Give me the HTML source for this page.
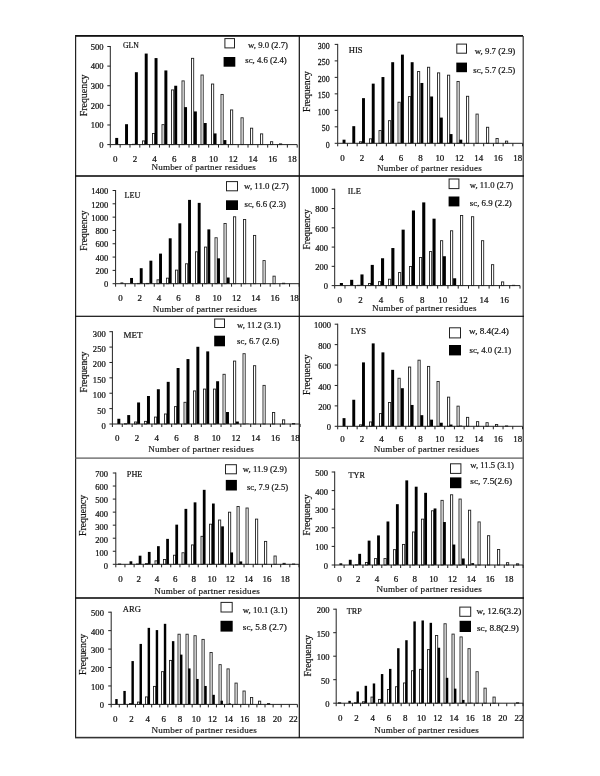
<!DOCTYPE html>
<html><head><meta charset="utf-8"><title>Figure</title>
<style>
html,body{margin:0;padding:0;background:#fff;}
body{width:600px;height:776px;overflow:hidden;}
svg{display:block;will-change:transform;}
text{font-family:"Liberation Serif", serif;fill:#111;stroke:#111;stroke-width:0.3px;}
.tk{font-size:9.2px;stroke-width:0.25px;}
.xl{font-size:9.2px;stroke-width:0.25px;}
.ti{font-size:8.6px;stroke-width:0.2px;}
.lg{font-size:8.6px;stroke-width:0.2px;}
.it{font-style:italic;}
.xt{font-size:9.1px;stroke-width:0.15px;}
.yt{font-size:10.2px;stroke-width:0.2px;}
</style></head>
<body>
<svg width="600" height="776" viewBox="0 0 600 776">
<rect width="600" height="776" fill="#fff"/>
<rect x="75" y="35" width="448" height="1.8" fill="#111"/>
<rect x="75" y="35" width="1.2" height="703" fill="#222"/>
<rect x="522.6" y="36" width="1.2" height="702" fill="#333"/>
<rect x="75" y="736.8" width="449" height="1.6" fill="#333"/>
<rect x="298.7" y="35" width="1.2" height="703" fill="#111"/>
<rect x="75" y="175.2" width="449" height="1.6" fill="#111"/>
<rect x="75" y="315.7" width="449" height="1.2" fill="#111"/>
<rect x="75" y="457.5" width="449" height="1.2" fill="#555"/>
<rect x="75" y="597.2" width="449" height="1.6" fill="#111"/>
<rect x="115.22" y="137.93" width="2.95" height="6.67" fill="#000"/>
<rect x="125.06" y="124.2" width="2.95" height="20.4" fill="#000"/>
<rect x="132.5" y="144.3" width="2.2" height="0.3" fill="#fff" stroke="#222" stroke-width="0.9"/>
<rect x="134.89" y="72.2" width="2.95" height="72.4" fill="#000"/>
<rect x="142.5" y="140.93" width="2.2" height="3.67" fill="#fff" stroke="#222" stroke-width="0.9"/>
<rect x="144.73" y="53.56" width="2.95" height="91.04" fill="#000"/>
<rect x="152.5" y="133.47" width="2.2" height="11.13" fill="#fff" stroke="#222" stroke-width="0.9"/>
<rect x="154.57" y="58.08" width="2.95" height="86.52" fill="#000"/>
<rect x="162" y="124.65" width="2.2" height="19.95" fill="#fff" stroke="#222" stroke-width="0.9"/>
<rect x="164.4" y="70.44" width="2.95" height="74.16" fill="#000"/>
<rect x="171.5" y="89.92" width="2.2" height="54.68" fill="#fff" stroke="#222" stroke-width="0.9"/>
<rect x="174.24" y="85.74" width="2.95" height="58.86" fill="#000"/>
<rect x="182" y="80.89" width="2.2" height="63.71" fill="#fff" stroke="#222" stroke-width="0.9"/>
<rect x="184.08" y="107.13" width="2.95" height="37.47" fill="#000"/>
<rect x="191.5" y="58.33" width="2.2" height="86.27" fill="#fff" stroke="#222" stroke-width="0.9"/>
<rect x="193.91" y="111.44" width="2.95" height="33.16" fill="#000"/>
<rect x="201" y="75.01" width="2.2" height="69.59" fill="#fff" stroke="#222" stroke-width="0.9"/>
<rect x="203.75" y="123.02" width="2.95" height="21.58" fill="#000"/>
<rect x="211.5" y="84.03" width="2.2" height="60.57" fill="#fff" stroke="#222" stroke-width="0.9"/>
<rect x="213.59" y="133.42" width="2.95" height="11.18" fill="#000"/>
<rect x="221" y="94.43" width="2.2" height="50.17" fill="#fff" stroke="#222" stroke-width="0.9"/>
<rect x="223.42" y="140.09" width="2.95" height="4.51" fill="#000"/>
<rect x="230.5" y="109.93" width="2.2" height="34.67" fill="#fff" stroke="#222" stroke-width="0.9"/>
<rect x="233.26" y="144.21" width="2.95" height="0.39" fill="#000"/>
<rect x="241" y="117.78" width="2.2" height="26.82" fill="#fff" stroke="#222" stroke-width="0.9"/>
<rect x="250.5" y="128.18" width="2.2" height="16.42" fill="#fff" stroke="#222" stroke-width="0.9"/>
<rect x="260.5" y="133.87" width="2.2" height="10.73" fill="#fff" stroke="#222" stroke-width="0.9"/>
<rect x="270.5" y="141.71" width="2.2" height="2.89" fill="#fff" stroke="#222" stroke-width="0.9"/>
<rect x="279.5" y="143.87" width="2.2" height="0.73" fill="#fff" stroke="#222" stroke-width="0.9"/>
<line x1="110.3" y1="46" x2="110.3" y2="144.6" stroke="#222" stroke-width="1"/>
<line x1="110.3" y1="144.6" x2="297.2" y2="144.6" stroke="#222" stroke-width="1"/>
<line x1="107.3" y1="144.6" x2="110.3" y2="144.6" stroke="#222" stroke-width="1"/>
<text x="103.6" y="147.9" class="tk" text-anchor="end" transform="translate(103.6,0) scale(0.93,1) translate(-103.6,0)">0</text>
<line x1="107.3" y1="124.98" x2="110.3" y2="124.98" stroke="#222" stroke-width="1"/>
<text x="103.6" y="128.28" class="tk" text-anchor="end" transform="translate(103.6,0) scale(0.93,1) translate(-103.6,0)">100</text>
<line x1="107.3" y1="105.36" x2="110.3" y2="105.36" stroke="#222" stroke-width="1"/>
<text x="103.6" y="108.66" class="tk" text-anchor="end" transform="translate(103.6,0) scale(0.93,1) translate(-103.6,0)">200</text>
<line x1="107.3" y1="85.74" x2="110.3" y2="85.74" stroke="#222" stroke-width="1"/>
<text x="103.6" y="89.04" class="tk" text-anchor="end" transform="translate(103.6,0) scale(0.93,1) translate(-103.6,0)">300</text>
<line x1="107.3" y1="66.12" x2="110.3" y2="66.12" stroke="#222" stroke-width="1"/>
<text x="103.6" y="69.42" class="tk" text-anchor="end" transform="translate(103.6,0) scale(0.93,1) translate(-103.6,0)">400</text>
<line x1="107.3" y1="46.5" x2="110.3" y2="46.5" stroke="#222" stroke-width="1"/>
<text x="103.6" y="49.8" class="tk" text-anchor="end" transform="translate(103.6,0) scale(0.93,1) translate(-103.6,0)">500</text>
<line x1="110.3" y1="144.6" x2="110.3" y2="147.6" stroke="#222" stroke-width="1"/>
<line x1="120.14" y1="144.6" x2="120.14" y2="147.6" stroke="#222" stroke-width="1"/>
<line x1="129.97" y1="144.6" x2="129.97" y2="147.6" stroke="#222" stroke-width="1"/>
<line x1="139.81" y1="144.6" x2="139.81" y2="147.6" stroke="#222" stroke-width="1"/>
<line x1="149.65" y1="144.6" x2="149.65" y2="147.6" stroke="#222" stroke-width="1"/>
<line x1="159.48" y1="144.6" x2="159.48" y2="147.6" stroke="#222" stroke-width="1"/>
<line x1="169.32" y1="144.6" x2="169.32" y2="147.6" stroke="#222" stroke-width="1"/>
<line x1="179.16" y1="144.6" x2="179.16" y2="147.6" stroke="#222" stroke-width="1"/>
<line x1="188.99" y1="144.6" x2="188.99" y2="147.6" stroke="#222" stroke-width="1"/>
<line x1="198.83" y1="144.6" x2="198.83" y2="147.6" stroke="#222" stroke-width="1"/>
<line x1="208.67" y1="144.6" x2="208.67" y2="147.6" stroke="#222" stroke-width="1"/>
<line x1="218.51" y1="144.6" x2="218.51" y2="147.6" stroke="#222" stroke-width="1"/>
<line x1="228.34" y1="144.6" x2="228.34" y2="147.6" stroke="#222" stroke-width="1"/>
<line x1="238.18" y1="144.6" x2="238.18" y2="147.6" stroke="#222" stroke-width="1"/>
<line x1="248.02" y1="144.6" x2="248.02" y2="147.6" stroke="#222" stroke-width="1"/>
<line x1="257.85" y1="144.6" x2="257.85" y2="147.6" stroke="#222" stroke-width="1"/>
<line x1="267.69" y1="144.6" x2="267.69" y2="147.6" stroke="#222" stroke-width="1"/>
<line x1="277.53" y1="144.6" x2="277.53" y2="147.6" stroke="#222" stroke-width="1"/>
<line x1="287.36" y1="144.6" x2="287.36" y2="147.6" stroke="#222" stroke-width="1"/>
<line x1="297.2" y1="144.6" x2="297.2" y2="147.6" stroke="#222" stroke-width="1"/>
<text x="115.22" y="162" class="xl" text-anchor="middle" transform="translate(115.22,0) scale(0.97,1) translate(-115.22,0)">0</text>
<text x="134.89" y="162" class="xl" text-anchor="middle" transform="translate(134.89,0) scale(0.97,1) translate(-134.89,0)">2</text>
<text x="154.57" y="162" class="xl" text-anchor="middle" transform="translate(154.57,0) scale(0.97,1) translate(-154.57,0)">4</text>
<text x="174.24" y="162" class="xl" text-anchor="middle" transform="translate(174.24,0) scale(0.97,1) translate(-174.24,0)">6</text>
<text x="193.91" y="162" class="xl" text-anchor="middle" transform="translate(193.91,0) scale(0.97,1) translate(-193.91,0)">8</text>
<text x="213.59" y="162" class="xl" text-anchor="middle" transform="translate(213.59,0) scale(0.97,1) translate(-213.59,0)">10</text>
<text x="233.26" y="162" class="xl" text-anchor="middle" transform="translate(233.26,0) scale(0.97,1) translate(-233.26,0)">12</text>
<text x="252.93" y="162" class="xl" text-anchor="middle" transform="translate(252.93,0) scale(0.97,1) translate(-252.93,0)">14</text>
<text x="272.61" y="162" class="xl" text-anchor="middle" transform="translate(272.61,0) scale(0.97,1) translate(-272.61,0)">16</text>
<text x="292.28" y="162" class="xl" text-anchor="middle" transform="translate(292.28,0) scale(0.97,1) translate(-292.28,0)">18</text>
<text x="151.4" y="169.7" class="xt" textLength="104.4" lengthAdjust="spacing">Number of partner residues</text>
<text x="0" y="0" class="yt" textLength="41.8" lengthAdjust="spacingAndGlyphs" transform="translate(86.58,116.3) rotate(-90)">Frequency</text>
<text x="122.9" y="48" class="ti" textLength="16" lengthAdjust="spacingAndGlyphs">GLN</text>
<rect x="224.9" y="38.6" width="9.6" height="9.3" fill="#fff" stroke="#222" stroke-width="1"/>
<rect x="223.6" y="57" width="11.7" height="9.7" fill="#000"/>
<text x="248.1" y="48.4" class="lg" textLength="39.8" lengthAdjust="spacingAndGlyphs">w, 9.0 (2.7)</text>
<text x="245.3" y="63.2" class="lg" textLength="41.4" lengthAdjust="spacingAndGlyphs">sc, 4.6 (2.4)</text>
<rect x="342.57" y="139.67" width="2.92" height="3.63" fill="#000"/>
<rect x="352.3" y="126.16" width="2.92" height="17.14" fill="#000"/>
<rect x="359.5" y="141.77" width="2.2" height="1.53" fill="#fff" stroke="#222" stroke-width="0.9"/>
<rect x="362.03" y="98.14" width="2.92" height="45.16" fill="#000"/>
<rect x="369.5" y="138.81" width="2.2" height="4.5" fill="#fff" stroke="#222" stroke-width="0.9"/>
<rect x="371.76" y="83.63" width="2.92" height="59.67" fill="#000"/>
<rect x="379" y="130.56" width="2.2" height="12.74" fill="#fff" stroke="#222" stroke-width="0.9"/>
<rect x="381.49" y="77.04" width="2.92" height="66.26" fill="#000"/>
<rect x="388.5" y="120.67" width="2.2" height="22.63" fill="#fff" stroke="#222" stroke-width="0.9"/>
<rect x="391.22" y="62.2" width="2.92" height="81.1" fill="#000"/>
<rect x="398" y="102.21" width="2.2" height="41.09" fill="#fff" stroke="#222" stroke-width="0.9"/>
<rect x="400.96" y="54.62" width="2.92" height="88.68" fill="#000"/>
<rect x="408.5" y="96.61" width="2.2" height="46.69" fill="#fff" stroke="#222" stroke-width="0.9"/>
<rect x="410.69" y="62.2" width="2.92" height="81.1" fill="#000"/>
<rect x="417.5" y="71.55" width="2.2" height="71.75" fill="#fff" stroke="#222" stroke-width="0.9"/>
<rect x="420.42" y="82.97" width="2.92" height="60.33" fill="#000"/>
<rect x="427.5" y="67.27" width="2.2" height="76.03" fill="#fff" stroke="#222" stroke-width="0.9"/>
<rect x="430.15" y="96.49" width="2.92" height="46.81" fill="#000"/>
<rect x="437.5" y="72.87" width="2.2" height="70.43" fill="#fff" stroke="#222" stroke-width="0.9"/>
<rect x="439.88" y="117.59" width="2.92" height="25.71" fill="#000"/>
<rect x="447.5" y="75.18" width="2.2" height="68.12" fill="#fff" stroke="#222" stroke-width="0.9"/>
<rect x="449.61" y="134.07" width="2.92" height="9.23" fill="#000"/>
<rect x="457" y="81.44" width="2.2" height="61.86" fill="#fff" stroke="#222" stroke-width="0.9"/>
<rect x="459.34" y="139.67" width="2.92" height="3.63" fill="#000"/>
<rect x="466.5" y="96.28" width="2.2" height="47.02" fill="#fff" stroke="#222" stroke-width="0.9"/>
<rect x="476" y="114.08" width="2.2" height="29.22" fill="#fff" stroke="#222" stroke-width="0.9"/>
<rect x="486.5" y="127.27" width="2.2" height="16.03" fill="#fff" stroke="#222" stroke-width="0.9"/>
<rect x="496" y="138.48" width="2.2" height="4.82" fill="#fff" stroke="#222" stroke-width="0.9"/>
<rect x="505.5" y="141.11" width="2.2" height="2.19" fill="#fff" stroke="#222" stroke-width="0.9"/>
<line x1="337.7" y1="43.9" x2="337.7" y2="143.3" stroke="#222" stroke-width="1"/>
<line x1="337.7" y1="143.3" x2="522.6" y2="143.3" stroke="#222" stroke-width="1"/>
<line x1="334.7" y1="143.3" x2="337.7" y2="143.3" stroke="#222" stroke-width="1"/>
<text x="329.7" y="147.8" class="tk" text-anchor="end" transform="translate(329.7,0) scale(0.86,1) translate(-329.7,0)">0</text>
<line x1="334.7" y1="126.82" x2="337.7" y2="126.82" stroke="#222" stroke-width="1"/>
<text x="329.7" y="131.32" class="tk" text-anchor="end" transform="translate(329.7,0) scale(0.86,1) translate(-329.7,0)">50</text>
<line x1="334.7" y1="110.33" x2="337.7" y2="110.33" stroke="#222" stroke-width="1"/>
<text x="329.7" y="114.83" class="tk" text-anchor="end" transform="translate(329.7,0) scale(0.86,1) translate(-329.7,0)">100</text>
<line x1="334.7" y1="93.85" x2="337.7" y2="93.85" stroke="#222" stroke-width="1"/>
<text x="329.7" y="98.35" class="tk" text-anchor="end" transform="translate(329.7,0) scale(0.86,1) translate(-329.7,0)">150</text>
<line x1="334.7" y1="77.37" x2="337.7" y2="77.37" stroke="#222" stroke-width="1"/>
<text x="329.7" y="81.87" class="tk" text-anchor="end" transform="translate(329.7,0) scale(0.86,1) translate(-329.7,0)">200</text>
<line x1="334.7" y1="60.88" x2="337.7" y2="60.88" stroke="#222" stroke-width="1"/>
<text x="329.7" y="65.38" class="tk" text-anchor="end" transform="translate(329.7,0) scale(0.86,1) translate(-329.7,0)">250</text>
<line x1="334.7" y1="44.4" x2="337.7" y2="44.4" stroke="#222" stroke-width="1"/>
<text x="329.7" y="48.9" class="tk" text-anchor="end" transform="translate(329.7,0) scale(0.86,1) translate(-329.7,0)">300</text>
<line x1="337.7" y1="143.3" x2="337.7" y2="146.3" stroke="#222" stroke-width="1"/>
<line x1="347.43" y1="143.3" x2="347.43" y2="146.3" stroke="#222" stroke-width="1"/>
<line x1="357.16" y1="143.3" x2="357.16" y2="146.3" stroke="#222" stroke-width="1"/>
<line x1="366.89" y1="143.3" x2="366.89" y2="146.3" stroke="#222" stroke-width="1"/>
<line x1="376.63" y1="143.3" x2="376.63" y2="146.3" stroke="#222" stroke-width="1"/>
<line x1="386.36" y1="143.3" x2="386.36" y2="146.3" stroke="#222" stroke-width="1"/>
<line x1="396.09" y1="143.3" x2="396.09" y2="146.3" stroke="#222" stroke-width="1"/>
<line x1="405.82" y1="143.3" x2="405.82" y2="146.3" stroke="#222" stroke-width="1"/>
<line x1="415.55" y1="143.3" x2="415.55" y2="146.3" stroke="#222" stroke-width="1"/>
<line x1="425.28" y1="143.3" x2="425.28" y2="146.3" stroke="#222" stroke-width="1"/>
<line x1="435.02" y1="143.3" x2="435.02" y2="146.3" stroke="#222" stroke-width="1"/>
<line x1="444.75" y1="143.3" x2="444.75" y2="146.3" stroke="#222" stroke-width="1"/>
<line x1="454.48" y1="143.3" x2="454.48" y2="146.3" stroke="#222" stroke-width="1"/>
<line x1="464.21" y1="143.3" x2="464.21" y2="146.3" stroke="#222" stroke-width="1"/>
<line x1="473.94" y1="143.3" x2="473.94" y2="146.3" stroke="#222" stroke-width="1"/>
<line x1="483.67" y1="143.3" x2="483.67" y2="146.3" stroke="#222" stroke-width="1"/>
<line x1="493.41" y1="143.3" x2="493.41" y2="146.3" stroke="#222" stroke-width="1"/>
<line x1="503.14" y1="143.3" x2="503.14" y2="146.3" stroke="#222" stroke-width="1"/>
<line x1="512.87" y1="143.3" x2="512.87" y2="146.3" stroke="#222" stroke-width="1"/>
<line x1="522.6" y1="143.3" x2="522.6" y2="146.3" stroke="#222" stroke-width="1"/>
<text x="342.57" y="160.7" class="xl" text-anchor="middle" transform="translate(342.57,0) scale(0.97,1) translate(-342.57,0)">0</text>
<text x="362.03" y="160.7" class="xl" text-anchor="middle" transform="translate(362.03,0) scale(0.97,1) translate(-362.03,0)">2</text>
<text x="381.49" y="160.7" class="xl" text-anchor="middle" transform="translate(381.49,0) scale(0.97,1) translate(-381.49,0)">4</text>
<text x="400.96" y="160.7" class="xl" text-anchor="middle" transform="translate(400.96,0) scale(0.97,1) translate(-400.96,0)">6</text>
<text x="420.42" y="160.7" class="xl" text-anchor="middle" transform="translate(420.42,0) scale(0.97,1) translate(-420.42,0)">8</text>
<text x="439.88" y="160.7" class="xl" text-anchor="middle" transform="translate(439.88,0) scale(0.97,1) translate(-439.88,0)">10</text>
<text x="459.34" y="160.7" class="xl" text-anchor="middle" transform="translate(459.34,0) scale(0.97,1) translate(-459.34,0)">12</text>
<text x="478.81" y="160.7" class="xl" text-anchor="middle" transform="translate(478.81,0) scale(0.97,1) translate(-478.81,0)">14</text>
<text x="498.27" y="160.7" class="xl" text-anchor="middle" transform="translate(498.27,0) scale(0.97,1) translate(-498.27,0)">16</text>
<text x="517.73" y="160.7" class="xl" text-anchor="middle" transform="translate(517.73,0) scale(0.97,1) translate(-517.73,0)">18</text>
<text x="377" y="171.2" class="xt" textLength="104.9" lengthAdjust="spacing">Number of partner residues</text>
<text x="0" y="0" class="yt" textLength="40.8" lengthAdjust="spacingAndGlyphs" transform="translate(310.48,112) rotate(-90)">Frequency</text>
<text x="348.7" y="52.7" class="ti" textLength="13.9" lengthAdjust="spacingAndGlyphs">HIS</text>
<rect x="456.8" y="44.1" width="9.7" height="9.1" fill="#fff" stroke="#222" stroke-width="1"/>
<rect x="456.3" y="62.6" width="10.7" height="9.6" fill="#000"/>
<text x="474.7" y="54" class="lg" textLength="40.6" lengthAdjust="spacingAndGlyphs">w, 9.7 (2.9)</text>
<text x="473.3" y="72.7" class="lg" textLength="42" lengthAdjust="spacingAndGlyphs">sc, 5.7 (2.5)</text>
<rect x="120.43" y="282.5" width="2.9" height="1.2" fill="#000"/>
<rect x="130.09" y="277.97" width="2.9" height="5.73" fill="#000"/>
<rect x="137.5" y="283.4" width="2.2" height="0.3" fill="#fff" stroke="#222" stroke-width="0.9"/>
<rect x="139.76" y="268.19" width="2.9" height="15.51" fill="#000"/>
<rect x="146.5" y="283.4" width="2.2" height="0.3" fill="#fff" stroke="#222" stroke-width="0.9"/>
<rect x="149.42" y="260.67" width="2.9" height="23.03" fill="#000"/>
<rect x="157" y="279.82" width="2.2" height="3.88" fill="#fff" stroke="#222" stroke-width="0.9"/>
<rect x="159.08" y="253.61" width="2.9" height="30.09" fill="#000"/>
<rect x="166.5" y="278.16" width="2.2" height="5.54" fill="#fff" stroke="#222" stroke-width="0.9"/>
<rect x="168.75" y="238.3" width="2.9" height="45.4" fill="#000"/>
<rect x="175.5" y="270.1" width="2.2" height="13.6" fill="#fff" stroke="#222" stroke-width="0.9"/>
<rect x="178.41" y="223.32" width="2.9" height="60.38" fill="#000"/>
<rect x="185.5" y="263.78" width="2.2" height="19.92" fill="#fff" stroke="#222" stroke-width="0.9"/>
<rect x="188.07" y="199.89" width="2.9" height="83.81" fill="#000"/>
<rect x="195.5" y="251.8" width="2.2" height="31.9" fill="#fff" stroke="#222" stroke-width="0.9"/>
<rect x="197.74" y="202.88" width="2.9" height="80.82" fill="#000"/>
<rect x="204.5" y="247.07" width="2.2" height="36.63" fill="#fff" stroke="#222" stroke-width="0.9"/>
<rect x="207.4" y="229.38" width="2.9" height="54.32" fill="#000"/>
<rect x="215" y="237.75" width="2.2" height="45.95" fill="#fff" stroke="#222" stroke-width="0.9"/>
<rect x="217.06" y="258.34" width="2.9" height="25.36" fill="#000"/>
<rect x="224" y="223.5" width="2.2" height="60.2" fill="#fff" stroke="#222" stroke-width="0.9"/>
<rect x="226.73" y="277.51" width="2.9" height="6.19" fill="#000"/>
<rect x="233.5" y="216.78" width="2.2" height="66.92" fill="#fff" stroke="#222" stroke-width="0.9"/>
<rect x="236.39" y="283.5" width="2.9" height="0.2" fill="#000"/>
<rect x="243.5" y="219.51" width="2.2" height="64.19" fill="#fff" stroke="#222" stroke-width="0.9"/>
<rect x="253.5" y="235.42" width="2.2" height="48.28" fill="#fff" stroke="#222" stroke-width="0.9"/>
<rect x="263" y="260.58" width="2.2" height="23.12" fill="#fff" stroke="#222" stroke-width="0.9"/>
<rect x="273" y="276.16" width="2.2" height="7.54" fill="#fff" stroke="#222" stroke-width="0.9"/>
<rect x="282.5" y="283.22" width="2.2" height="0.48" fill="#fff" stroke="#222" stroke-width="0.9"/>
<line x1="115.6" y1="190" x2="115.6" y2="283.7" stroke="#222" stroke-width="1"/>
<line x1="115.6" y1="283.7" x2="299.2" y2="283.7" stroke="#222" stroke-width="1"/>
<line x1="112.6" y1="283.7" x2="115.6" y2="283.7" stroke="#222" stroke-width="1"/>
<text x="108.4" y="287.4" class="tk" text-anchor="end" transform="translate(108.4,0) scale(0.93,1) translate(-108.4,0)">0</text>
<line x1="112.6" y1="270.39" x2="115.6" y2="270.39" stroke="#222" stroke-width="1"/>
<text x="108.4" y="274.09" class="tk" text-anchor="end" transform="translate(108.4,0) scale(0.93,1) translate(-108.4,0)">200</text>
<line x1="112.6" y1="257.07" x2="115.6" y2="257.07" stroke="#222" stroke-width="1"/>
<text x="108.4" y="260.77" class="tk" text-anchor="end" transform="translate(108.4,0) scale(0.93,1) translate(-108.4,0)">400</text>
<line x1="112.6" y1="243.76" x2="115.6" y2="243.76" stroke="#222" stroke-width="1"/>
<text x="108.4" y="247.46" class="tk" text-anchor="end" transform="translate(108.4,0) scale(0.93,1) translate(-108.4,0)">600</text>
<line x1="112.6" y1="230.44" x2="115.6" y2="230.44" stroke="#222" stroke-width="1"/>
<text x="108.4" y="234.14" class="tk" text-anchor="end" transform="translate(108.4,0) scale(0.93,1) translate(-108.4,0)">800</text>
<line x1="112.6" y1="217.13" x2="115.6" y2="217.13" stroke="#222" stroke-width="1"/>
<text x="108.4" y="220.83" class="tk" text-anchor="end" transform="translate(108.4,0) scale(0.93,1) translate(-108.4,0)">1000</text>
<line x1="112.6" y1="203.81" x2="115.6" y2="203.81" stroke="#222" stroke-width="1"/>
<text x="108.4" y="207.51" class="tk" text-anchor="end" transform="translate(108.4,0) scale(0.93,1) translate(-108.4,0)">1200</text>
<line x1="112.6" y1="190.5" x2="115.6" y2="190.5" stroke="#222" stroke-width="1"/>
<text x="108.4" y="194.2" class="tk" text-anchor="end" transform="translate(108.4,0) scale(0.93,1) translate(-108.4,0)">1400</text>
<line x1="115.6" y1="283.7" x2="115.6" y2="286.7" stroke="#222" stroke-width="1"/>
<line x1="125.26" y1="283.7" x2="125.26" y2="286.7" stroke="#222" stroke-width="1"/>
<line x1="134.93" y1="283.7" x2="134.93" y2="286.7" stroke="#222" stroke-width="1"/>
<line x1="144.59" y1="283.7" x2="144.59" y2="286.7" stroke="#222" stroke-width="1"/>
<line x1="154.25" y1="283.7" x2="154.25" y2="286.7" stroke="#222" stroke-width="1"/>
<line x1="163.92" y1="283.7" x2="163.92" y2="286.7" stroke="#222" stroke-width="1"/>
<line x1="173.58" y1="283.7" x2="173.58" y2="286.7" stroke="#222" stroke-width="1"/>
<line x1="183.24" y1="283.7" x2="183.24" y2="286.7" stroke="#222" stroke-width="1"/>
<line x1="192.91" y1="283.7" x2="192.91" y2="286.7" stroke="#222" stroke-width="1"/>
<line x1="202.57" y1="283.7" x2="202.57" y2="286.7" stroke="#222" stroke-width="1"/>
<line x1="212.23" y1="283.7" x2="212.23" y2="286.7" stroke="#222" stroke-width="1"/>
<line x1="221.89" y1="283.7" x2="221.89" y2="286.7" stroke="#222" stroke-width="1"/>
<line x1="231.56" y1="283.7" x2="231.56" y2="286.7" stroke="#222" stroke-width="1"/>
<line x1="241.22" y1="283.7" x2="241.22" y2="286.7" stroke="#222" stroke-width="1"/>
<line x1="250.88" y1="283.7" x2="250.88" y2="286.7" stroke="#222" stroke-width="1"/>
<line x1="260.55" y1="283.7" x2="260.55" y2="286.7" stroke="#222" stroke-width="1"/>
<line x1="270.21" y1="283.7" x2="270.21" y2="286.7" stroke="#222" stroke-width="1"/>
<line x1="279.87" y1="283.7" x2="279.87" y2="286.7" stroke="#222" stroke-width="1"/>
<line x1="289.54" y1="283.7" x2="289.54" y2="286.7" stroke="#222" stroke-width="1"/>
<line x1="299.2" y1="283.7" x2="299.2" y2="286.7" stroke="#222" stroke-width="1"/>
<text x="120.43" y="301.1" class="xl" text-anchor="middle" transform="translate(120.43,0) scale(0.97,1) translate(-120.43,0)">0</text>
<text x="139.76" y="301.1" class="xl" text-anchor="middle" transform="translate(139.76,0) scale(0.97,1) translate(-139.76,0)">2</text>
<text x="159.08" y="301.1" class="xl" text-anchor="middle" transform="translate(159.08,0) scale(0.97,1) translate(-159.08,0)">4</text>
<text x="178.41" y="301.1" class="xl" text-anchor="middle" transform="translate(178.41,0) scale(0.97,1) translate(-178.41,0)">6</text>
<text x="197.74" y="301.1" class="xl" text-anchor="middle" transform="translate(197.74,0) scale(0.97,1) translate(-197.74,0)">8</text>
<text x="217.06" y="301.1" class="xl" text-anchor="middle" transform="translate(217.06,0) scale(0.97,1) translate(-217.06,0)">10</text>
<text x="236.39" y="301.1" class="xl" text-anchor="middle" transform="translate(236.39,0) scale(0.97,1) translate(-236.39,0)">12</text>
<text x="255.72" y="301.1" class="xl" text-anchor="middle" transform="translate(255.72,0) scale(0.97,1) translate(-255.72,0)">14</text>
<text x="275.04" y="301.1" class="xl" text-anchor="middle" transform="translate(275.04,0) scale(0.97,1) translate(-275.04,0)">16</text>
<text x="294.37" y="301.1" class="xl" text-anchor="middle" transform="translate(294.37,0) scale(0.97,1) translate(-294.37,0)">18</text>
<text x="152.7" y="311.5" class="xt" textLength="104.2" lengthAdjust="spacing">Number of partner residues</text>
<text x="0" y="0" class="yt" textLength="40.4" lengthAdjust="spacingAndGlyphs" transform="translate(86.98,250.8) rotate(-90)">Frequency</text>
<text x="124.6" y="198" class="ti" textLength="15.8" lengthAdjust="spacingAndGlyphs">LEU</text>
<rect x="226.5" y="181.6" width="11" height="9.2" fill="#fff" stroke="#222" stroke-width="1"/>
<rect x="226" y="200.3" width="12" height="9.7" fill="#000"/>
<text x="244.1" y="189.3" class="lg" textLength="44.5" lengthAdjust="spacingAndGlyphs">w, 11.0 (2.7)</text>
<text x="244.5" y="206.7" class="lg" textLength="41.4" lengthAdjust="spacingAndGlyphs">sc, 6.6 (2.3)</text>
<rect x="339.85" y="283" width="3.09" height="2.6" fill="#000"/>
<rect x="350.14" y="279.82" width="3.09" height="5.78" fill="#000"/>
<rect x="357.5" y="285.3" width="2.2" height="0.3" fill="#fff" stroke="#222" stroke-width="0.9"/>
<rect x="360.44" y="274.43" width="3.09" height="11.17" fill="#000"/>
<rect x="368.5" y="283.45" width="2.2" height="2.15" fill="#fff" stroke="#222" stroke-width="0.9"/>
<rect x="370.73" y="264.9" width="3.09" height="20.7" fill="#000"/>
<rect x="378.5" y="281.62" width="2.2" height="3.98" fill="#fff" stroke="#222" stroke-width="0.9"/>
<rect x="381.02" y="258.25" width="3.09" height="27.35" fill="#000"/>
<rect x="388.5" y="279.21" width="2.2" height="6.39" fill="#fff" stroke="#222" stroke-width="0.9"/>
<rect x="391.32" y="248.04" width="3.09" height="37.56" fill="#000"/>
<rect x="398.5" y="272.57" width="2.2" height="13.03" fill="#fff" stroke="#222" stroke-width="0.9"/>
<rect x="401.61" y="229.65" width="3.09" height="55.95" fill="#000"/>
<rect x="409.5" y="266.5" width="2.2" height="19.1" fill="#fff" stroke="#222" stroke-width="0.9"/>
<rect x="411.91" y="210.49" width="3.09" height="75.11" fill="#000"/>
<rect x="419.5" y="257.55" width="2.2" height="28.05" fill="#fff" stroke="#222" stroke-width="0.9"/>
<rect x="422.2" y="202.4" width="3.09" height="83.2" fill="#000"/>
<rect x="429.5" y="251.57" width="2.2" height="34.03" fill="#fff" stroke="#222" stroke-width="0.9"/>
<rect x="432.5" y="218.67" width="3.09" height="66.93" fill="#000"/>
<rect x="440.5" y="240.69" width="2.2" height="44.91" fill="#fff" stroke="#222" stroke-width="0.9"/>
<rect x="442.79" y="256.23" width="3.09" height="29.37" fill="#000"/>
<rect x="450.5" y="230.77" width="2.2" height="54.83" fill="#fff" stroke="#222" stroke-width="0.9"/>
<rect x="453.09" y="278.28" width="3.09" height="7.32" fill="#000"/>
<rect x="460.5" y="215.46" width="2.2" height="70.14" fill="#fff" stroke="#222" stroke-width="0.9"/>
<rect x="463.38" y="285.41" width="3.09" height="0.19" fill="#000"/>
<rect x="471.5" y="216.71" width="2.2" height="68.89" fill="#fff" stroke="#222" stroke-width="0.9"/>
<rect x="481.5" y="240.69" width="2.2" height="44.91" fill="#fff" stroke="#222" stroke-width="0.9"/>
<rect x="491.5" y="264.67" width="2.2" height="20.93" fill="#fff" stroke="#222" stroke-width="0.9"/>
<rect x="501.5" y="281.91" width="2.2" height="3.69" fill="#fff" stroke="#222" stroke-width="0.9"/>
<rect x="512.5" y="285.3" width="2.2" height="0.3" fill="#fff" stroke="#222" stroke-width="0.9"/>
<line x1="334.7" y1="188.8" x2="334.7" y2="285.6" stroke="#222" stroke-width="1"/>
<line x1="334.7" y1="285.6" x2="520" y2="285.6" stroke="#222" stroke-width="1"/>
<line x1="331.7" y1="285.6" x2="334.7" y2="285.6" stroke="#222" stroke-width="1"/>
<text x="328" y="289.5" class="tk" text-anchor="end" transform="translate(328,0) scale(0.93,1) translate(-328,0)">0</text>
<line x1="331.7" y1="266.34" x2="334.7" y2="266.34" stroke="#222" stroke-width="1"/>
<text x="328" y="270.24" class="tk" text-anchor="end" transform="translate(328,0) scale(0.93,1) translate(-328,0)">200</text>
<line x1="331.7" y1="247.08" x2="334.7" y2="247.08" stroke="#222" stroke-width="1"/>
<text x="328" y="250.98" class="tk" text-anchor="end" transform="translate(328,0) scale(0.93,1) translate(-328,0)">400</text>
<line x1="331.7" y1="227.82" x2="334.7" y2="227.82" stroke="#222" stroke-width="1"/>
<text x="328" y="231.72" class="tk" text-anchor="end" transform="translate(328,0) scale(0.93,1) translate(-328,0)">600</text>
<line x1="331.7" y1="208.56" x2="334.7" y2="208.56" stroke="#222" stroke-width="1"/>
<text x="328" y="212.46" class="tk" text-anchor="end" transform="translate(328,0) scale(0.93,1) translate(-328,0)">800</text>
<line x1="331.7" y1="189.3" x2="334.7" y2="189.3" stroke="#222" stroke-width="1"/>
<text x="328" y="193.2" class="tk" text-anchor="end" transform="translate(328,0) scale(0.93,1) translate(-328,0)">1000</text>
<line x1="334.7" y1="285.6" x2="334.7" y2="288.6" stroke="#222" stroke-width="1"/>
<line x1="344.99" y1="285.6" x2="344.99" y2="288.6" stroke="#222" stroke-width="1"/>
<line x1="355.29" y1="285.6" x2="355.29" y2="288.6" stroke="#222" stroke-width="1"/>
<line x1="365.58" y1="285.6" x2="365.58" y2="288.6" stroke="#222" stroke-width="1"/>
<line x1="375.88" y1="285.6" x2="375.88" y2="288.6" stroke="#222" stroke-width="1"/>
<line x1="386.17" y1="285.6" x2="386.17" y2="288.6" stroke="#222" stroke-width="1"/>
<line x1="396.47" y1="285.6" x2="396.47" y2="288.6" stroke="#222" stroke-width="1"/>
<line x1="406.76" y1="285.6" x2="406.76" y2="288.6" stroke="#222" stroke-width="1"/>
<line x1="417.06" y1="285.6" x2="417.06" y2="288.6" stroke="#222" stroke-width="1"/>
<line x1="427.35" y1="285.6" x2="427.35" y2="288.6" stroke="#222" stroke-width="1"/>
<line x1="437.64" y1="285.6" x2="437.64" y2="288.6" stroke="#222" stroke-width="1"/>
<line x1="447.94" y1="285.6" x2="447.94" y2="288.6" stroke="#222" stroke-width="1"/>
<line x1="458.23" y1="285.6" x2="458.23" y2="288.6" stroke="#222" stroke-width="1"/>
<line x1="468.53" y1="285.6" x2="468.53" y2="288.6" stroke="#222" stroke-width="1"/>
<line x1="478.82" y1="285.6" x2="478.82" y2="288.6" stroke="#222" stroke-width="1"/>
<line x1="489.12" y1="285.6" x2="489.12" y2="288.6" stroke="#222" stroke-width="1"/>
<line x1="499.41" y1="285.6" x2="499.41" y2="288.6" stroke="#222" stroke-width="1"/>
<line x1="509.71" y1="285.6" x2="509.71" y2="288.6" stroke="#222" stroke-width="1"/>
<line x1="520" y1="285.6" x2="520" y2="288.6" stroke="#222" stroke-width="1"/>
<text x="339.85" y="303" class="xl" text-anchor="middle" transform="translate(339.85,0) scale(0.97,1) translate(-339.85,0)">0</text>
<text x="360.44" y="303" class="xl" text-anchor="middle" transform="translate(360.44,0) scale(0.97,1) translate(-360.44,0)">2</text>
<text x="381.02" y="303" class="xl" text-anchor="middle" transform="translate(381.02,0) scale(0.97,1) translate(-381.02,0)">4</text>
<text x="401.61" y="303" class="xl" text-anchor="middle" transform="translate(401.61,0) scale(0.97,1) translate(-401.61,0)">6</text>
<text x="422.2" y="303" class="xl" text-anchor="middle" transform="translate(422.2,0) scale(0.97,1) translate(-422.2,0)">8</text>
<text x="442.79" y="303" class="xl" text-anchor="middle" transform="translate(442.79,0) scale(0.97,1) translate(-442.79,0)">10</text>
<text x="463.38" y="303" class="xl" text-anchor="middle" transform="translate(463.38,0) scale(0.97,1) translate(-463.38,0)">12</text>
<text x="483.97" y="303" class="xl" text-anchor="middle" transform="translate(483.97,0) scale(0.97,1) translate(-483.97,0)">14</text>
<text x="504.56" y="303" class="xl" text-anchor="middle" transform="translate(504.56,0) scale(0.97,1) translate(-504.56,0)">16</text>
<text x="372" y="311" class="xt" textLength="104.5" lengthAdjust="spacing">Number of partner residues</text>
<text x="0" y="0" class="yt" textLength="40.4" lengthAdjust="spacingAndGlyphs" transform="translate(310.48,249.6) rotate(-90)">Frequency</text>
<text x="347.8" y="194.4" class="ti" textLength="13.1" lengthAdjust="spacingAndGlyphs">ILE</text>
<rect x="449.1" y="179" width="9.8" height="9.6" fill="#fff" stroke="#222" stroke-width="1"/>
<rect x="448.6" y="196.5" width="10.8" height="9.9" fill="#000"/>
<text x="469.8" y="188.4" class="lg" textLength="43.4" lengthAdjust="spacingAndGlyphs">w, 11.0 (2.7)</text>
<text x="469.8" y="205.7" class="lg" textLength="42" lengthAdjust="spacingAndGlyphs">sc, 6.9 (2.2)</text>
<rect x="117.34" y="418.77" width="2.96" height="5.23" fill="#000"/>
<rect x="124.5" y="423.7" width="2.2" height="0.3" fill="#fff" stroke="#222" stroke-width="0.9"/>
<rect x="127.22" y="415.08" width="2.96" height="8.92" fill="#000"/>
<rect x="134.5" y="421.99" width="2.2" height="2.01" fill="#fff" stroke="#222" stroke-width="0.9"/>
<rect x="137.1" y="402.46" width="2.96" height="21.54" fill="#000"/>
<rect x="144.5" y="421.37" width="2.2" height="2.63" fill="#fff" stroke="#222" stroke-width="0.9"/>
<rect x="146.98" y="396" width="2.96" height="28" fill="#000"/>
<rect x="154.5" y="417.07" width="2.2" height="6.93" fill="#fff" stroke="#222" stroke-width="0.9"/>
<rect x="156.86" y="389.23" width="2.96" height="34.77" fill="#000"/>
<rect x="164.5" y="413.99" width="2.2" height="10.01" fill="#fff" stroke="#222" stroke-width="0.9"/>
<rect x="166.73" y="381.85" width="2.96" height="42.15" fill="#000"/>
<rect x="174.5" y="406.61" width="2.2" height="17.39" fill="#fff" stroke="#222" stroke-width="0.9"/>
<rect x="176.61" y="368" width="2.96" height="56" fill="#000"/>
<rect x="184" y="402.3" width="2.2" height="21.7" fill="#fff" stroke="#222" stroke-width="0.9"/>
<rect x="186.49" y="359.08" width="2.96" height="64.92" fill="#000"/>
<rect x="193.5" y="390.91" width="2.2" height="33.09" fill="#fff" stroke="#222" stroke-width="0.9"/>
<rect x="196.37" y="346.78" width="2.96" height="77.22" fill="#000"/>
<rect x="203.5" y="389.07" width="2.2" height="34.93" fill="#fff" stroke="#222" stroke-width="0.9"/>
<rect x="206.25" y="351.39" width="2.96" height="72.61" fill="#000"/>
<rect x="213.5" y="389.07" width="2.2" height="34.93" fill="#fff" stroke="#222" stroke-width="0.9"/>
<rect x="216.13" y="381.23" width="2.96" height="42.77" fill="#000"/>
<rect x="223" y="374.3" width="2.2" height="49.7" fill="#fff" stroke="#222" stroke-width="0.9"/>
<rect x="226.01" y="412" width="2.96" height="12" fill="#000"/>
<rect x="233.5" y="361.07" width="2.2" height="62.93" fill="#fff" stroke="#222" stroke-width="0.9"/>
<rect x="235.89" y="421.54" width="2.96" height="2.46" fill="#000"/>
<rect x="243" y="353.69" width="2.2" height="70.31" fill="#fff" stroke="#222" stroke-width="0.9"/>
<rect x="245.77" y="423.69" width="2.96" height="0.31" fill="#000"/>
<rect x="253.5" y="365.69" width="2.2" height="58.31" fill="#fff" stroke="#222" stroke-width="0.9"/>
<rect x="263" y="385.38" width="2.2" height="38.62" fill="#fff" stroke="#222" stroke-width="0.9"/>
<rect x="272.5" y="412.45" width="2.2" height="11.55" fill="#fff" stroke="#222" stroke-width="0.9"/>
<rect x="282.5" y="419.83" width="2.2" height="4.17" fill="#fff" stroke="#222" stroke-width="0.9"/>
<rect x="292.5" y="423.53" width="2.2" height="0.47" fill="#fff" stroke="#222" stroke-width="0.9"/>
<line x1="112.4" y1="331.2" x2="112.4" y2="424" stroke="#222" stroke-width="1"/>
<line x1="112.4" y1="424" x2="300.1" y2="424" stroke="#222" stroke-width="1"/>
<line x1="109.4" y1="424" x2="112.4" y2="424" stroke="#222" stroke-width="1"/>
<text x="105.7" y="428.9" class="tk" text-anchor="end" transform="translate(105.7,0) scale(0.93,1) translate(-105.7,0)">0</text>
<line x1="109.4" y1="408.62" x2="112.4" y2="408.62" stroke="#222" stroke-width="1"/>
<text x="105.7" y="413.52" class="tk" text-anchor="end" transform="translate(105.7,0) scale(0.93,1) translate(-105.7,0)">50</text>
<line x1="109.4" y1="393.23" x2="112.4" y2="393.23" stroke="#222" stroke-width="1"/>
<text x="105.7" y="398.13" class="tk" text-anchor="end" transform="translate(105.7,0) scale(0.93,1) translate(-105.7,0)">100</text>
<line x1="109.4" y1="377.85" x2="112.4" y2="377.85" stroke="#222" stroke-width="1"/>
<text x="105.7" y="382.75" class="tk" text-anchor="end" transform="translate(105.7,0) scale(0.93,1) translate(-105.7,0)">150</text>
<line x1="109.4" y1="362.47" x2="112.4" y2="362.47" stroke="#222" stroke-width="1"/>
<text x="105.7" y="367.37" class="tk" text-anchor="end" transform="translate(105.7,0) scale(0.93,1) translate(-105.7,0)">200</text>
<line x1="109.4" y1="347.08" x2="112.4" y2="347.08" stroke="#222" stroke-width="1"/>
<text x="105.7" y="351.98" class="tk" text-anchor="end" transform="translate(105.7,0) scale(0.93,1) translate(-105.7,0)">250</text>
<line x1="109.4" y1="331.7" x2="112.4" y2="331.7" stroke="#222" stroke-width="1"/>
<text x="105.7" y="336.6" class="tk" text-anchor="end" transform="translate(105.7,0) scale(0.93,1) translate(-105.7,0)">300</text>
<line x1="112.4" y1="424" x2="112.4" y2="427" stroke="#222" stroke-width="1"/>
<line x1="122.28" y1="424" x2="122.28" y2="427" stroke="#222" stroke-width="1"/>
<line x1="132.16" y1="424" x2="132.16" y2="427" stroke="#222" stroke-width="1"/>
<line x1="142.04" y1="424" x2="142.04" y2="427" stroke="#222" stroke-width="1"/>
<line x1="151.92" y1="424" x2="151.92" y2="427" stroke="#222" stroke-width="1"/>
<line x1="161.79" y1="424" x2="161.79" y2="427" stroke="#222" stroke-width="1"/>
<line x1="171.67" y1="424" x2="171.67" y2="427" stroke="#222" stroke-width="1"/>
<line x1="181.55" y1="424" x2="181.55" y2="427" stroke="#222" stroke-width="1"/>
<line x1="191.43" y1="424" x2="191.43" y2="427" stroke="#222" stroke-width="1"/>
<line x1="201.31" y1="424" x2="201.31" y2="427" stroke="#222" stroke-width="1"/>
<line x1="211.19" y1="424" x2="211.19" y2="427" stroke="#222" stroke-width="1"/>
<line x1="221.07" y1="424" x2="221.07" y2="427" stroke="#222" stroke-width="1"/>
<line x1="230.95" y1="424" x2="230.95" y2="427" stroke="#222" stroke-width="1"/>
<line x1="240.83" y1="424" x2="240.83" y2="427" stroke="#222" stroke-width="1"/>
<line x1="250.71" y1="424" x2="250.71" y2="427" stroke="#222" stroke-width="1"/>
<line x1="260.58" y1="424" x2="260.58" y2="427" stroke="#222" stroke-width="1"/>
<line x1="270.46" y1="424" x2="270.46" y2="427" stroke="#222" stroke-width="1"/>
<line x1="280.34" y1="424" x2="280.34" y2="427" stroke="#222" stroke-width="1"/>
<line x1="290.22" y1="424" x2="290.22" y2="427" stroke="#222" stroke-width="1"/>
<line x1="300.1" y1="424" x2="300.1" y2="427" stroke="#222" stroke-width="1"/>
<text x="117.34" y="441.4" class="xl" text-anchor="middle" transform="translate(117.34,0) scale(0.97,1) translate(-117.34,0)">0</text>
<text x="137.1" y="441.4" class="xl" text-anchor="middle" transform="translate(137.1,0) scale(0.97,1) translate(-137.1,0)">2</text>
<text x="156.86" y="441.4" class="xl" text-anchor="middle" transform="translate(156.86,0) scale(0.97,1) translate(-156.86,0)">4</text>
<text x="176.61" y="441.4" class="xl" text-anchor="middle" transform="translate(176.61,0) scale(0.97,1) translate(-176.61,0)">6</text>
<text x="196.37" y="441.4" class="xl" text-anchor="middle" transform="translate(196.37,0) scale(0.97,1) translate(-196.37,0)">8</text>
<text x="216.13" y="441.4" class="xl" text-anchor="middle" transform="translate(216.13,0) scale(0.97,1) translate(-216.13,0)">10</text>
<text x="235.89" y="441.4" class="xl" text-anchor="middle" transform="translate(235.89,0) scale(0.97,1) translate(-235.89,0)">12</text>
<text x="255.64" y="441.4" class="xl" text-anchor="middle" transform="translate(255.64,0) scale(0.97,1) translate(-255.64,0)">14</text>
<text x="275.4" y="441.4" class="xl" text-anchor="middle" transform="translate(275.4,0) scale(0.97,1) translate(-275.4,0)">16</text>
<text x="295.16" y="441.4" class="xl" text-anchor="middle" transform="translate(295.16,0) scale(0.97,1) translate(-295.16,0)">18</text>
<text x="148.3" y="452" class="xt" textLength="105.4" lengthAdjust="spacing">Number of partner residues</text>
<text x="0" y="0" class="yt" textLength="40.9" lengthAdjust="spacingAndGlyphs" transform="translate(87.28,392.5) rotate(-90)">Frequency</text>
<text x="123.4" y="337.7" class="ti" textLength="19" lengthAdjust="spacingAndGlyphs">MET</text>
<rect x="214.7" y="319" width="9.8" height="8.5" fill="#fff" stroke="#222" stroke-width="1"/>
<rect x="214.2" y="335.7" width="10.8" height="10.6" fill="#000"/>
<text x="237.1" y="327.7" class="lg" textLength="43.6" lengthAdjust="spacingAndGlyphs">w, 11.2 (3.1)</text>
<text x="237.1" y="343.5" class="lg" textLength="42" lengthAdjust="spacingAndGlyphs">sc, 6.7 (2.6)</text>
<rect x="342.56" y="418.13" width="2.92" height="8.17" fill="#000"/>
<rect x="352.29" y="399.75" width="2.92" height="26.55" fill="#000"/>
<rect x="359.5" y="424.81" width="2.2" height="1.49" fill="#fff" stroke="#222" stroke-width="0.9"/>
<rect x="362.02" y="362.39" width="2.92" height="63.91" fill="#000"/>
<rect x="369.5" y="421.95" width="2.2" height="4.35" fill="#fff" stroke="#222" stroke-width="0.9"/>
<rect x="371.74" y="343.39" width="2.92" height="82.91" fill="#000"/>
<rect x="379.5" y="413.58" width="2.2" height="12.72" fill="#fff" stroke="#222" stroke-width="0.9"/>
<rect x="381.47" y="352.38" width="2.92" height="73.92" fill="#000"/>
<rect x="388.5" y="402.45" width="2.2" height="23.85" fill="#fff" stroke="#222" stroke-width="0.9"/>
<rect x="391.19" y="369.84" width="2.92" height="56.46" fill="#000"/>
<rect x="398" y="378.25" width="2.2" height="48.05" fill="#fff" stroke="#222" stroke-width="0.9"/>
<rect x="400.92" y="388.22" width="2.92" height="38.08" fill="#000"/>
<rect x="408.5" y="367.02" width="2.2" height="59.28" fill="#fff" stroke="#222" stroke-width="0.9"/>
<rect x="410.65" y="404.96" width="2.92" height="21.34" fill="#000"/>
<rect x="418" y="360.18" width="2.2" height="66.12" fill="#fff" stroke="#222" stroke-width="0.9"/>
<rect x="420.37" y="415.17" width="2.92" height="11.13" fill="#000"/>
<rect x="427.5" y="366.41" width="2.2" height="59.89" fill="#fff" stroke="#222" stroke-width="0.9"/>
<rect x="430.1" y="419.66" width="2.92" height="6.64" fill="#000"/>
<rect x="437" y="381.52" width="2.2" height="44.78" fill="#fff" stroke="#222" stroke-width="0.9"/>
<rect x="439.83" y="422.73" width="2.92" height="3.57" fill="#000"/>
<rect x="447.5" y="397.14" width="2.2" height="29.16" fill="#fff" stroke="#222" stroke-width="0.9"/>
<rect x="449.55" y="424.56" width="2.92" height="1.74" fill="#000"/>
<rect x="457" y="406.13" width="2.2" height="20.17" fill="#fff" stroke="#222" stroke-width="0.9"/>
<rect x="459.28" y="425.59" width="2.92" height="0.71" fill="#000"/>
<rect x="466.5" y="417.36" width="2.2" height="8.94" fill="#fff" stroke="#222" stroke-width="0.9"/>
<rect x="476.5" y="421.64" width="2.2" height="4.66" fill="#fff" stroke="#222" stroke-width="0.9"/>
<rect x="486" y="422.67" width="2.2" height="3.63" fill="#fff" stroke="#222" stroke-width="0.9"/>
<rect x="495.5" y="424.5" width="2.2" height="1.8" fill="#fff" stroke="#222" stroke-width="0.9"/>
<rect x="505.5" y="425.93" width="2.2" height="0.37" fill="#fff" stroke="#222" stroke-width="0.9"/>
<line x1="337.7" y1="323.7" x2="337.7" y2="426.3" stroke="#222" stroke-width="1"/>
<line x1="337.7" y1="426.3" x2="522.5" y2="426.3" stroke="#222" stroke-width="1"/>
<line x1="334.7" y1="426.3" x2="337.7" y2="426.3" stroke="#222" stroke-width="1"/>
<text x="331" y="430.5" class="tk" text-anchor="end" transform="translate(331,0) scale(0.93,1) translate(-331,0)">0</text>
<line x1="334.7" y1="405.88" x2="337.7" y2="405.88" stroke="#222" stroke-width="1"/>
<text x="331" y="410.08" class="tk" text-anchor="end" transform="translate(331,0) scale(0.93,1) translate(-331,0)">200</text>
<line x1="334.7" y1="385.46" x2="337.7" y2="385.46" stroke="#222" stroke-width="1"/>
<text x="331" y="389.66" class="tk" text-anchor="end" transform="translate(331,0) scale(0.93,1) translate(-331,0)">400</text>
<line x1="334.7" y1="365.04" x2="337.7" y2="365.04" stroke="#222" stroke-width="1"/>
<text x="331" y="369.24" class="tk" text-anchor="end" transform="translate(331,0) scale(0.93,1) translate(-331,0)">600</text>
<line x1="334.7" y1="344.62" x2="337.7" y2="344.62" stroke="#222" stroke-width="1"/>
<text x="331" y="348.82" class="tk" text-anchor="end" transform="translate(331,0) scale(0.93,1) translate(-331,0)">800</text>
<line x1="334.7" y1="324.2" x2="337.7" y2="324.2" stroke="#222" stroke-width="1"/>
<text x="331" y="328.4" class="tk" text-anchor="end" transform="translate(331,0) scale(0.93,1) translate(-331,0)">1000</text>
<line x1="337.7" y1="426.3" x2="337.7" y2="429.3" stroke="#222" stroke-width="1"/>
<line x1="347.43" y1="426.3" x2="347.43" y2="429.3" stroke="#222" stroke-width="1"/>
<line x1="357.15" y1="426.3" x2="357.15" y2="429.3" stroke="#222" stroke-width="1"/>
<line x1="366.88" y1="426.3" x2="366.88" y2="429.3" stroke="#222" stroke-width="1"/>
<line x1="376.61" y1="426.3" x2="376.61" y2="429.3" stroke="#222" stroke-width="1"/>
<line x1="386.33" y1="426.3" x2="386.33" y2="429.3" stroke="#222" stroke-width="1"/>
<line x1="396.06" y1="426.3" x2="396.06" y2="429.3" stroke="#222" stroke-width="1"/>
<line x1="405.78" y1="426.3" x2="405.78" y2="429.3" stroke="#222" stroke-width="1"/>
<line x1="415.51" y1="426.3" x2="415.51" y2="429.3" stroke="#222" stroke-width="1"/>
<line x1="425.24" y1="426.3" x2="425.24" y2="429.3" stroke="#222" stroke-width="1"/>
<line x1="434.96" y1="426.3" x2="434.96" y2="429.3" stroke="#222" stroke-width="1"/>
<line x1="444.69" y1="426.3" x2="444.69" y2="429.3" stroke="#222" stroke-width="1"/>
<line x1="454.42" y1="426.3" x2="454.42" y2="429.3" stroke="#222" stroke-width="1"/>
<line x1="464.14" y1="426.3" x2="464.14" y2="429.3" stroke="#222" stroke-width="1"/>
<line x1="473.87" y1="426.3" x2="473.87" y2="429.3" stroke="#222" stroke-width="1"/>
<line x1="483.59" y1="426.3" x2="483.59" y2="429.3" stroke="#222" stroke-width="1"/>
<line x1="493.32" y1="426.3" x2="493.32" y2="429.3" stroke="#222" stroke-width="1"/>
<line x1="503.05" y1="426.3" x2="503.05" y2="429.3" stroke="#222" stroke-width="1"/>
<line x1="512.77" y1="426.3" x2="512.77" y2="429.3" stroke="#222" stroke-width="1"/>
<line x1="522.5" y1="426.3" x2="522.5" y2="429.3" stroke="#222" stroke-width="1"/>
<text x="342.56" y="442.4" class="xl" text-anchor="middle" transform="translate(342.56,0) scale(0.97,1) translate(-342.56,0)">0</text>
<text x="362.02" y="442.4" class="xl" text-anchor="middle" transform="translate(362.02,0) scale(0.97,1) translate(-362.02,0)">2</text>
<text x="381.47" y="442.4" class="xl" text-anchor="middle" transform="translate(381.47,0) scale(0.97,1) translate(-381.47,0)">4</text>
<text x="400.92" y="442.4" class="xl" text-anchor="middle" transform="translate(400.92,0) scale(0.97,1) translate(-400.92,0)">6</text>
<text x="420.37" y="442.4" class="xl" text-anchor="middle" transform="translate(420.37,0) scale(0.97,1) translate(-420.37,0)">8</text>
<text x="439.83" y="442.4" class="xl" text-anchor="middle" transform="translate(439.83,0) scale(0.97,1) translate(-439.83,0)">10</text>
<text x="459.28" y="442.4" class="xl" text-anchor="middle" transform="translate(459.28,0) scale(0.97,1) translate(-459.28,0)">12</text>
<text x="478.73" y="442.4" class="xl" text-anchor="middle" transform="translate(478.73,0) scale(0.97,1) translate(-478.73,0)">14</text>
<text x="498.18" y="442.4" class="xl" text-anchor="middle" transform="translate(498.18,0) scale(0.97,1) translate(-498.18,0)">16</text>
<text x="517.64" y="442.4" class="xl" text-anchor="middle" transform="translate(517.64,0) scale(0.97,1) translate(-517.64,0)">18</text>
<text x="373.8" y="451.6" class="xt" textLength="105.3" lengthAdjust="spacing">Number of partner residues</text>
<text x="0" y="0" class="yt" textLength="40.4" lengthAdjust="spacingAndGlyphs" transform="translate(310.48,394.9) rotate(-90)">Frequency</text>
<text x="350.8" y="334" class="ti" textLength="15.3" lengthAdjust="spacingAndGlyphs">LYS</text>
<rect x="449.5" y="327.8" width="11" height="10.1" fill="#fff" stroke="#222" stroke-width="1"/>
<rect x="449" y="345" width="12" height="10.4" fill="#000"/>
<text x="469.1" y="334" class="lg" textLength="39.7" lengthAdjust="spacingAndGlyphs">w, 8.4(2.4)</text>
<text x="469.6" y="352.7" class="lg" textLength="41.5" lengthAdjust="spacingAndGlyphs">sc, 4.0 (2.1)</text>
<rect x="118.5" y="564" width="2.2" height="0.3" fill="#fff" stroke="#222" stroke-width="0.9"/>
<rect x="129.54" y="561.3" width="2.75" height="3" fill="#000"/>
<rect x="136.5" y="564" width="2.2" height="0.3" fill="#fff" stroke="#222" stroke-width="0.9"/>
<rect x="138.7" y="555.69" width="2.75" height="8.61" fill="#000"/>
<rect x="145.5" y="563.58" width="2.2" height="0.72" fill="#fff" stroke="#222" stroke-width="0.9"/>
<rect x="147.86" y="551.91" width="2.75" height="12.39" fill="#000"/>
<rect x="155" y="560.84" width="2.2" height="3.46" fill="#fff" stroke="#222" stroke-width="0.9"/>
<rect x="157.02" y="546.17" width="2.75" height="18.13" fill="#000"/>
<rect x="163.5" y="559.53" width="2.2" height="4.77" fill="#fff" stroke="#222" stroke-width="0.9"/>
<rect x="166.18" y="538.87" width="2.75" height="25.43" fill="#000"/>
<rect x="173.5" y="555.23" width="2.2" height="9.07" fill="#fff" stroke="#222" stroke-width="0.9"/>
<rect x="175.34" y="524.65" width="2.75" height="39.65" fill="#000"/>
<rect x="182" y="552.75" width="2.2" height="11.55" fill="#fff" stroke="#222" stroke-width="0.9"/>
<rect x="184.5" y="508.87" width="2.75" height="55.43" fill="#000"/>
<rect x="191.5" y="544.92" width="2.2" height="19.38" fill="#fff" stroke="#222" stroke-width="0.9"/>
<rect x="193.66" y="502.35" width="2.75" height="61.95" fill="#000"/>
<rect x="201" y="536.32" width="2.2" height="27.98" fill="#fff" stroke="#222" stroke-width="0.9"/>
<rect x="202.82" y="489.83" width="2.75" height="74.47" fill="#000"/>
<rect x="209.5" y="524.19" width="2.2" height="40.11" fill="#fff" stroke="#222" stroke-width="0.9"/>
<rect x="211.98" y="503.52" width="2.75" height="60.78" fill="#000"/>
<rect x="218.5" y="520.01" width="2.2" height="44.29" fill="#fff" stroke="#222" stroke-width="0.9"/>
<rect x="221.14" y="526.35" width="2.75" height="37.95" fill="#000"/>
<rect x="228.5" y="512.19" width="2.2" height="52.11" fill="#fff" stroke="#222" stroke-width="0.9"/>
<rect x="230.3" y="552.43" width="2.75" height="11.87" fill="#000"/>
<rect x="237" y="506.45" width="2.2" height="57.85" fill="#fff" stroke="#222" stroke-width="0.9"/>
<rect x="239.46" y="561.43" width="2.75" height="2.87" fill="#000"/>
<rect x="246" y="508.01" width="2.2" height="56.29" fill="#fff" stroke="#222" stroke-width="0.9"/>
<rect x="248.62" y="564.17" width="2.75" height="0.13" fill="#000"/>
<rect x="255.5" y="519.1" width="2.2" height="45.2" fill="#fff" stroke="#222" stroke-width="0.9"/>
<rect x="264.5" y="541.4" width="2.2" height="22.9" fill="#fff" stroke="#222" stroke-width="0.9"/>
<rect x="274" y="556.01" width="2.2" height="8.29" fill="#fff" stroke="#222" stroke-width="0.9"/>
<rect x="283" y="563.32" width="2.2" height="0.98" fill="#fff" stroke="#222" stroke-width="0.9"/>
<rect x="292.5" y="564" width="2.2" height="0.3" fill="#fff" stroke="#222" stroke-width="0.9"/>
<line x1="115.8" y1="472.5" x2="115.8" y2="564.3" stroke="#222" stroke-width="1"/>
<line x1="115.8" y1="564.3" x2="299" y2="564.3" stroke="#222" stroke-width="1"/>
<line x1="112.8" y1="564.3" x2="115.8" y2="564.3" stroke="#222" stroke-width="1"/>
<text x="108.1" y="568.7" class="tk" text-anchor="end" transform="translate(108.1,0) scale(0.93,1) translate(-108.1,0)">0</text>
<line x1="112.8" y1="551.26" x2="115.8" y2="551.26" stroke="#222" stroke-width="1"/>
<text x="108.1" y="555.66" class="tk" text-anchor="end" transform="translate(108.1,0) scale(0.93,1) translate(-108.1,0)">100</text>
<line x1="112.8" y1="538.21" x2="115.8" y2="538.21" stroke="#222" stroke-width="1"/>
<text x="108.1" y="542.61" class="tk" text-anchor="end" transform="translate(108.1,0) scale(0.93,1) translate(-108.1,0)">200</text>
<line x1="112.8" y1="525.17" x2="115.8" y2="525.17" stroke="#222" stroke-width="1"/>
<text x="108.1" y="529.57" class="tk" text-anchor="end" transform="translate(108.1,0) scale(0.93,1) translate(-108.1,0)">300</text>
<line x1="112.8" y1="512.13" x2="115.8" y2="512.13" stroke="#222" stroke-width="1"/>
<text x="108.1" y="516.53" class="tk" text-anchor="end" transform="translate(108.1,0) scale(0.93,1) translate(-108.1,0)">400</text>
<line x1="112.8" y1="499.09" x2="115.8" y2="499.09" stroke="#222" stroke-width="1"/>
<text x="108.1" y="503.49" class="tk" text-anchor="end" transform="translate(108.1,0) scale(0.93,1) translate(-108.1,0)">500</text>
<line x1="112.8" y1="486.04" x2="115.8" y2="486.04" stroke="#222" stroke-width="1"/>
<text x="108.1" y="490.44" class="tk" text-anchor="end" transform="translate(108.1,0) scale(0.93,1) translate(-108.1,0)">600</text>
<line x1="112.8" y1="473" x2="115.8" y2="473" stroke="#222" stroke-width="1"/>
<text x="108.1" y="477.4" class="tk" text-anchor="end" transform="translate(108.1,0) scale(0.93,1) translate(-108.1,0)">700</text>
<line x1="115.8" y1="564.3" x2="115.8" y2="567.3" stroke="#222" stroke-width="1"/>
<line x1="124.96" y1="564.3" x2="124.96" y2="567.3" stroke="#222" stroke-width="1"/>
<line x1="134.12" y1="564.3" x2="134.12" y2="567.3" stroke="#222" stroke-width="1"/>
<line x1="143.28" y1="564.3" x2="143.28" y2="567.3" stroke="#222" stroke-width="1"/>
<line x1="152.44" y1="564.3" x2="152.44" y2="567.3" stroke="#222" stroke-width="1"/>
<line x1="161.6" y1="564.3" x2="161.6" y2="567.3" stroke="#222" stroke-width="1"/>
<line x1="170.76" y1="564.3" x2="170.76" y2="567.3" stroke="#222" stroke-width="1"/>
<line x1="179.92" y1="564.3" x2="179.92" y2="567.3" stroke="#222" stroke-width="1"/>
<line x1="189.08" y1="564.3" x2="189.08" y2="567.3" stroke="#222" stroke-width="1"/>
<line x1="198.24" y1="564.3" x2="198.24" y2="567.3" stroke="#222" stroke-width="1"/>
<line x1="207.4" y1="564.3" x2="207.4" y2="567.3" stroke="#222" stroke-width="1"/>
<line x1="216.56" y1="564.3" x2="216.56" y2="567.3" stroke="#222" stroke-width="1"/>
<line x1="225.72" y1="564.3" x2="225.72" y2="567.3" stroke="#222" stroke-width="1"/>
<line x1="234.88" y1="564.3" x2="234.88" y2="567.3" stroke="#222" stroke-width="1"/>
<line x1="244.04" y1="564.3" x2="244.04" y2="567.3" stroke="#222" stroke-width="1"/>
<line x1="253.2" y1="564.3" x2="253.2" y2="567.3" stroke="#222" stroke-width="1"/>
<line x1="262.36" y1="564.3" x2="262.36" y2="567.3" stroke="#222" stroke-width="1"/>
<line x1="271.52" y1="564.3" x2="271.52" y2="567.3" stroke="#222" stroke-width="1"/>
<line x1="280.68" y1="564.3" x2="280.68" y2="567.3" stroke="#222" stroke-width="1"/>
<line x1="289.84" y1="564.3" x2="289.84" y2="567.3" stroke="#222" stroke-width="1"/>
<line x1="299" y1="564.3" x2="299" y2="567.3" stroke="#222" stroke-width="1"/>
<text x="120.38" y="581.7" class="xl" text-anchor="middle" transform="translate(120.38,0) scale(0.97,1) translate(-120.38,0)">0</text>
<text x="138.7" y="581.7" class="xl" text-anchor="middle" transform="translate(138.7,0) scale(0.97,1) translate(-138.7,0)">2</text>
<text x="157.02" y="581.7" class="xl" text-anchor="middle" transform="translate(157.02,0) scale(0.97,1) translate(-157.02,0)">4</text>
<text x="175.34" y="581.7" class="xl" text-anchor="middle" transform="translate(175.34,0) scale(0.97,1) translate(-175.34,0)">6</text>
<text x="193.66" y="581.7" class="xl" text-anchor="middle" transform="translate(193.66,0) scale(0.97,1) translate(-193.66,0)">8</text>
<text x="211.98" y="581.7" class="xl" text-anchor="middle" transform="translate(211.98,0) scale(0.97,1) translate(-211.98,0)">10</text>
<text x="230.3" y="581.7" class="xl" text-anchor="middle" transform="translate(230.3,0) scale(0.97,1) translate(-230.3,0)">12</text>
<text x="248.62" y="581.7" class="xl" text-anchor="middle" transform="translate(248.62,0) scale(0.97,1) translate(-248.62,0)">14</text>
<text x="266.94" y="581.7" class="xl" text-anchor="middle" transform="translate(266.94,0) scale(0.97,1) translate(-266.94,0)">16</text>
<text x="285.26" y="581.7" class="xl" text-anchor="middle" transform="translate(285.26,0) scale(0.97,1) translate(-285.26,0)">18</text>
<text x="154.2" y="593.5" class="xt" textLength="105.5" lengthAdjust="spacing">Number of partner residues</text>
<text x="0" y="0" class="yt" textLength="41" lengthAdjust="spacingAndGlyphs" transform="translate(86.48,536) rotate(-90)">Frequency</text>
<text x="126.8" y="477" class="ti" textLength="15.6" lengthAdjust="spacingAndGlyphs">PHE</text>
<rect x="225.5" y="464.7" width="10.9" height="9.1" fill="#fff" stroke="#222" stroke-width="1"/>
<rect x="225.8" y="479.9" width="11.1" height="10.6" fill="#000"/>
<text x="242.8" y="471.8" class="lg" textLength="44" lengthAdjust="spacingAndGlyphs">w, 11.9 (2.9)</text>
<text x="246.9" y="489.5" class="lg" textLength="41.3" lengthAdjust="spacingAndGlyphs">sc, 7.9 (2.5)</text>
<rect x="339.41" y="563.33" width="2.83" height="1.67" fill="#000"/>
<rect x="348.83" y="559.79" width="2.83" height="5.21" fill="#000"/>
<rect x="355.5" y="564.7" width="2.2" height="0.3" fill="#fff" stroke="#222" stroke-width="0.9"/>
<rect x="358.25" y="553.84" width="2.83" height="11.16" fill="#000"/>
<rect x="365.5" y="562.47" width="2.2" height="2.53" fill="#fff" stroke="#222" stroke-width="0.9"/>
<rect x="367.67" y="540.63" width="2.83" height="24.37" fill="#000"/>
<rect x="374.5" y="558.57" width="2.2" height="6.43" fill="#fff" stroke="#222" stroke-width="0.9"/>
<rect x="377.09" y="535.43" width="2.83" height="29.57" fill="#000"/>
<rect x="384" y="558.57" width="2.2" height="6.43" fill="#fff" stroke="#222" stroke-width="0.9"/>
<rect x="386.51" y="521.48" width="2.83" height="43.52" fill="#000"/>
<rect x="393.5" y="549.64" width="2.2" height="15.36" fill="#fff" stroke="#222" stroke-width="0.9"/>
<rect x="395.93" y="504.18" width="2.83" height="60.82" fill="#000"/>
<rect x="402.5" y="544.43" width="2.2" height="20.57" fill="#fff" stroke="#222" stroke-width="0.9"/>
<rect x="405.35" y="480.37" width="2.83" height="84.63" fill="#000"/>
<rect x="412.5" y="531.97" width="2.2" height="33.03" fill="#fff" stroke="#222" stroke-width="0.9"/>
<rect x="414.77" y="486.69" width="2.83" height="78.31" fill="#000"/>
<rect x="421.5" y="519.14" width="2.2" height="45.86" fill="#fff" stroke="#222" stroke-width="0.9"/>
<rect x="424.19" y="492.83" width="2.83" height="72.17" fill="#000"/>
<rect x="431.5" y="510.77" width="2.2" height="54.23" fill="#fff" stroke="#222" stroke-width="0.9"/>
<rect x="433.61" y="508.46" width="2.83" height="56.54" fill="#000"/>
<rect x="441" y="500.35" width="2.2" height="64.65" fill="#fff" stroke="#222" stroke-width="0.9"/>
<rect x="443.03" y="522.03" width="2.83" height="42.97" fill="#000"/>
<rect x="450.5" y="494.77" width="2.2" height="70.23" fill="#fff" stroke="#222" stroke-width="0.9"/>
<rect x="452.45" y="544.54" width="2.83" height="20.46" fill="#000"/>
<rect x="459" y="499.05" width="2.2" height="65.95" fill="#fff" stroke="#222" stroke-width="0.9"/>
<rect x="461.87" y="558.49" width="2.83" height="6.51" fill="#000"/>
<rect x="468.5" y="510.21" width="2.2" height="54.79" fill="#fff" stroke="#222" stroke-width="0.9"/>
<rect x="471.29" y="563.14" width="2.83" height="1.86" fill="#000"/>
<rect x="478" y="521.93" width="2.2" height="43.07" fill="#fff" stroke="#222" stroke-width="0.9"/>
<rect x="487.5" y="535.69" width="2.2" height="29.31" fill="#fff" stroke="#222" stroke-width="0.9"/>
<rect x="497.5" y="549.45" width="2.2" height="15.55" fill="#fff" stroke="#222" stroke-width="0.9"/>
<rect x="506.5" y="562.66" width="2.2" height="2.34" fill="#fff" stroke="#222" stroke-width="0.9"/>
<rect x="516.5" y="563.78" width="2.2" height="1.22" fill="#fff" stroke="#222" stroke-width="0.9"/>
<line x1="334.7" y1="471.5" x2="334.7" y2="565" stroke="#222" stroke-width="1"/>
<line x1="334.7" y1="565" x2="523.1" y2="565" stroke="#222" stroke-width="1"/>
<line x1="331.7" y1="565" x2="334.7" y2="565" stroke="#222" stroke-width="1"/>
<text x="328" y="569.1" class="tk" text-anchor="end" transform="translate(328,0) scale(0.93,1) translate(-328,0)">0</text>
<line x1="331.7" y1="546.4" x2="334.7" y2="546.4" stroke="#222" stroke-width="1"/>
<text x="328" y="550.5" class="tk" text-anchor="end" transform="translate(328,0) scale(0.93,1) translate(-328,0)">100</text>
<line x1="331.7" y1="527.8" x2="334.7" y2="527.8" stroke="#222" stroke-width="1"/>
<text x="328" y="531.9" class="tk" text-anchor="end" transform="translate(328,0) scale(0.93,1) translate(-328,0)">200</text>
<line x1="331.7" y1="509.2" x2="334.7" y2="509.2" stroke="#222" stroke-width="1"/>
<text x="328" y="513.3" class="tk" text-anchor="end" transform="translate(328,0) scale(0.93,1) translate(-328,0)">300</text>
<line x1="331.7" y1="490.6" x2="334.7" y2="490.6" stroke="#222" stroke-width="1"/>
<text x="328" y="494.7" class="tk" text-anchor="end" transform="translate(328,0) scale(0.93,1) translate(-328,0)">400</text>
<line x1="331.7" y1="472" x2="334.7" y2="472" stroke="#222" stroke-width="1"/>
<text x="328" y="476.1" class="tk" text-anchor="end" transform="translate(328,0) scale(0.93,1) translate(-328,0)">500</text>
<line x1="334.7" y1="565" x2="334.7" y2="568" stroke="#222" stroke-width="1"/>
<line x1="344.12" y1="565" x2="344.12" y2="568" stroke="#222" stroke-width="1"/>
<line x1="353.54" y1="565" x2="353.54" y2="568" stroke="#222" stroke-width="1"/>
<line x1="362.96" y1="565" x2="362.96" y2="568" stroke="#222" stroke-width="1"/>
<line x1="372.38" y1="565" x2="372.38" y2="568" stroke="#222" stroke-width="1"/>
<line x1="381.8" y1="565" x2="381.8" y2="568" stroke="#222" stroke-width="1"/>
<line x1="391.22" y1="565" x2="391.22" y2="568" stroke="#222" stroke-width="1"/>
<line x1="400.64" y1="565" x2="400.64" y2="568" stroke="#222" stroke-width="1"/>
<line x1="410.06" y1="565" x2="410.06" y2="568" stroke="#222" stroke-width="1"/>
<line x1="419.48" y1="565" x2="419.48" y2="568" stroke="#222" stroke-width="1"/>
<line x1="428.9" y1="565" x2="428.9" y2="568" stroke="#222" stroke-width="1"/>
<line x1="438.32" y1="565" x2="438.32" y2="568" stroke="#222" stroke-width="1"/>
<line x1="447.74" y1="565" x2="447.74" y2="568" stroke="#222" stroke-width="1"/>
<line x1="457.16" y1="565" x2="457.16" y2="568" stroke="#222" stroke-width="1"/>
<line x1="466.58" y1="565" x2="466.58" y2="568" stroke="#222" stroke-width="1"/>
<line x1="476" y1="565" x2="476" y2="568" stroke="#222" stroke-width="1"/>
<line x1="485.42" y1="565" x2="485.42" y2="568" stroke="#222" stroke-width="1"/>
<line x1="494.84" y1="565" x2="494.84" y2="568" stroke="#222" stroke-width="1"/>
<line x1="504.26" y1="565" x2="504.26" y2="568" stroke="#222" stroke-width="1"/>
<line x1="513.68" y1="565" x2="513.68" y2="568" stroke="#222" stroke-width="1"/>
<line x1="523.1" y1="565" x2="523.1" y2="568" stroke="#222" stroke-width="1"/>
<text x="339.41" y="582.4" class="xl" text-anchor="middle" transform="translate(339.41,0) scale(0.97,1) translate(-339.41,0)">0</text>
<text x="358.25" y="582.4" class="xl" text-anchor="middle" transform="translate(358.25,0) scale(0.97,1) translate(-358.25,0)">2</text>
<text x="377.09" y="582.4" class="xl" text-anchor="middle" transform="translate(377.09,0) scale(0.97,1) translate(-377.09,0)">4</text>
<text x="395.93" y="582.4" class="xl" text-anchor="middle" transform="translate(395.93,0) scale(0.97,1) translate(-395.93,0)">6</text>
<text x="414.77" y="582.4" class="xl" text-anchor="middle" transform="translate(414.77,0) scale(0.97,1) translate(-414.77,0)">8</text>
<text x="433.61" y="582.4" class="xl" text-anchor="middle" transform="translate(433.61,0) scale(0.97,1) translate(-433.61,0)">10</text>
<text x="452.45" y="582.4" class="xl" text-anchor="middle" transform="translate(452.45,0) scale(0.97,1) translate(-452.45,0)">12</text>
<text x="471.29" y="582.4" class="xl" text-anchor="middle" transform="translate(471.29,0) scale(0.97,1) translate(-471.29,0)">14</text>
<text x="490.13" y="582.4" class="xl" text-anchor="middle" transform="translate(490.13,0) scale(0.97,1) translate(-490.13,0)">16</text>
<text x="508.97" y="582.4" class="xl" text-anchor="middle" transform="translate(508.97,0) scale(0.97,1) translate(-508.97,0)">18</text>
<text x="376.4" y="592" class="xt" textLength="105.5" lengthAdjust="spacing">Number of partner residues</text>
<text x="0" y="0" class="yt" textLength="40.9" lengthAdjust="spacingAndGlyphs" transform="translate(310.48,535.4) rotate(-90)">Frequency</text>
<text x="348.6" y="478.2" class="ti" textLength="16.3" lengthAdjust="spacingAndGlyphs">TYR</text>
<rect x="450.5" y="463.8" width="10.4" height="9.6" fill="#fff" stroke="#222" stroke-width="1"/>
<rect x="450" y="477.4" width="11.4" height="10.8" fill="#000"/>
<text x="470.3" y="468.4" class="lg" textLength="43.6" lengthAdjust="spacingAndGlyphs">w, 11.5 (3.1)</text>
<text x="470.3" y="484.3" class="lg" textLength="41.8" lengthAdjust="spacingAndGlyphs">sc, 7.5(2.6)</text>
<rect x="115.25" y="699.05" width="2.43" height="5.35" fill="#000"/>
<rect x="123.34" y="690.94" width="2.43" height="13.46" fill="#000"/>
<rect x="129.5" y="703.56" width="2.2" height="0.84" fill="#fff" stroke="#222" stroke-width="0.9"/>
<rect x="131.44" y="661.07" width="2.43" height="43.33" fill="#000"/>
<rect x="137.5" y="702.08" width="2.2" height="2.32" fill="#fff" stroke="#222" stroke-width="0.9"/>
<rect x="139.53" y="643.92" width="2.43" height="60.48" fill="#000"/>
<rect x="145.5" y="696.92" width="2.2" height="7.48" fill="#fff" stroke="#222" stroke-width="0.9"/>
<rect x="147.63" y="627.87" width="2.43" height="76.53" fill="#000"/>
<rect x="153.5" y="686.41" width="2.2" height="17.99" fill="#fff" stroke="#222" stroke-width="0.9"/>
<rect x="155.73" y="630.09" width="2.43" height="74.31" fill="#000"/>
<rect x="161.5" y="671.66" width="2.2" height="32.74" fill="#fff" stroke="#222" stroke-width="0.9"/>
<rect x="163.82" y="623.82" width="2.43" height="80.58" fill="#000"/>
<rect x="169.5" y="660.41" width="2.2" height="43.99" fill="#fff" stroke="#222" stroke-width="0.9"/>
<rect x="171.92" y="641.15" width="2.43" height="63.25" fill="#000"/>
<rect x="178" y="634.22" width="2.2" height="70.18" fill="#fff" stroke="#222" stroke-width="0.9"/>
<rect x="180.01" y="654.61" width="2.43" height="49.79" fill="#000"/>
<rect x="186" y="634.22" width="2.2" height="70.18" fill="#fff" stroke="#222" stroke-width="0.9"/>
<rect x="188.11" y="668.44" width="2.43" height="35.96" fill="#000"/>
<rect x="194" y="635.7" width="2.2" height="68.7" fill="#fff" stroke="#222" stroke-width="0.9"/>
<rect x="196.2" y="678.95" width="2.43" height="25.45" fill="#000"/>
<rect x="202" y="639.39" width="2.2" height="65.01" fill="#fff" stroke="#222" stroke-width="0.9"/>
<rect x="204.3" y="685.96" width="2.43" height="18.44" fill="#000"/>
<rect x="210" y="652.48" width="2.2" height="51.92" fill="#fff" stroke="#222" stroke-width="0.9"/>
<rect x="212.4" y="694.81" width="2.43" height="9.59" fill="#000"/>
<rect x="219" y="664.65" width="2.2" height="39.75" fill="#fff" stroke="#222" stroke-width="0.9"/>
<rect x="220.49" y="700.71" width="2.43" height="3.69" fill="#000"/>
<rect x="227" y="668.89" width="2.2" height="35.51" fill="#fff" stroke="#222" stroke-width="0.9"/>
<rect x="228.59" y="703.48" width="2.43" height="0.92" fill="#000"/>
<rect x="235" y="683.09" width="2.2" height="21.31" fill="#fff" stroke="#222" stroke-width="0.9"/>
<rect x="243" y="691.02" width="2.2" height="13.38" fill="#fff" stroke="#222" stroke-width="0.9"/>
<rect x="250.5" y="697.47" width="2.2" height="6.93" fill="#fff" stroke="#222" stroke-width="0.9"/>
<rect x="258.5" y="701.16" width="2.2" height="3.24" fill="#fff" stroke="#222" stroke-width="0.9"/>
<rect x="267.5" y="703.56" width="2.2" height="0.84" fill="#fff" stroke="#222" stroke-width="0.9"/>
<line x1="111.2" y1="611.7" x2="111.2" y2="704.4" stroke="#222" stroke-width="1"/>
<line x1="111.2" y1="704.4" x2="297.4" y2="704.4" stroke="#222" stroke-width="1"/>
<line x1="108.2" y1="704.4" x2="111.2" y2="704.4" stroke="#222" stroke-width="1"/>
<text x="103.9" y="708.5" class="tk" text-anchor="end" transform="translate(103.9,0) scale(0.93,1) translate(-103.9,0)">0</text>
<line x1="108.2" y1="685.96" x2="111.2" y2="685.96" stroke="#222" stroke-width="1"/>
<text x="103.9" y="690.06" class="tk" text-anchor="end" transform="translate(103.9,0) scale(0.93,1) translate(-103.9,0)">100</text>
<line x1="108.2" y1="667.52" x2="111.2" y2="667.52" stroke="#222" stroke-width="1"/>
<text x="103.9" y="671.62" class="tk" text-anchor="end" transform="translate(103.9,0) scale(0.93,1) translate(-103.9,0)">200</text>
<line x1="108.2" y1="649.08" x2="111.2" y2="649.08" stroke="#222" stroke-width="1"/>
<text x="103.9" y="653.18" class="tk" text-anchor="end" transform="translate(103.9,0) scale(0.93,1) translate(-103.9,0)">300</text>
<line x1="108.2" y1="630.64" x2="111.2" y2="630.64" stroke="#222" stroke-width="1"/>
<text x="103.9" y="634.74" class="tk" text-anchor="end" transform="translate(103.9,0) scale(0.93,1) translate(-103.9,0)">400</text>
<line x1="108.2" y1="612.2" x2="111.2" y2="612.2" stroke="#222" stroke-width="1"/>
<text x="103.9" y="616.3" class="tk" text-anchor="end" transform="translate(103.9,0) scale(0.93,1) translate(-103.9,0)">500</text>
<line x1="111.2" y1="704.4" x2="111.2" y2="707.4" stroke="#222" stroke-width="1"/>
<line x1="119.3" y1="704.4" x2="119.3" y2="707.4" stroke="#222" stroke-width="1"/>
<line x1="127.39" y1="704.4" x2="127.39" y2="707.4" stroke="#222" stroke-width="1"/>
<line x1="135.49" y1="704.4" x2="135.49" y2="707.4" stroke="#222" stroke-width="1"/>
<line x1="143.58" y1="704.4" x2="143.58" y2="707.4" stroke="#222" stroke-width="1"/>
<line x1="151.68" y1="704.4" x2="151.68" y2="707.4" stroke="#222" stroke-width="1"/>
<line x1="159.77" y1="704.4" x2="159.77" y2="707.4" stroke="#222" stroke-width="1"/>
<line x1="167.87" y1="704.4" x2="167.87" y2="707.4" stroke="#222" stroke-width="1"/>
<line x1="175.97" y1="704.4" x2="175.97" y2="707.4" stroke="#222" stroke-width="1"/>
<line x1="184.06" y1="704.4" x2="184.06" y2="707.4" stroke="#222" stroke-width="1"/>
<line x1="192.16" y1="704.4" x2="192.16" y2="707.4" stroke="#222" stroke-width="1"/>
<line x1="200.25" y1="704.4" x2="200.25" y2="707.4" stroke="#222" stroke-width="1"/>
<line x1="208.35" y1="704.4" x2="208.35" y2="707.4" stroke="#222" stroke-width="1"/>
<line x1="216.44" y1="704.4" x2="216.44" y2="707.4" stroke="#222" stroke-width="1"/>
<line x1="224.54" y1="704.4" x2="224.54" y2="707.4" stroke="#222" stroke-width="1"/>
<line x1="232.63" y1="704.4" x2="232.63" y2="707.4" stroke="#222" stroke-width="1"/>
<line x1="240.73" y1="704.4" x2="240.73" y2="707.4" stroke="#222" stroke-width="1"/>
<line x1="248.83" y1="704.4" x2="248.83" y2="707.4" stroke="#222" stroke-width="1"/>
<line x1="256.92" y1="704.4" x2="256.92" y2="707.4" stroke="#222" stroke-width="1"/>
<line x1="265.02" y1="704.4" x2="265.02" y2="707.4" stroke="#222" stroke-width="1"/>
<line x1="273.11" y1="704.4" x2="273.11" y2="707.4" stroke="#222" stroke-width="1"/>
<line x1="281.21" y1="704.4" x2="281.21" y2="707.4" stroke="#222" stroke-width="1"/>
<line x1="289.3" y1="704.4" x2="289.3" y2="707.4" stroke="#222" stroke-width="1"/>
<line x1="297.4" y1="704.4" x2="297.4" y2="707.4" stroke="#222" stroke-width="1"/>
<text x="115.25" y="721.8" class="xl" text-anchor="middle" transform="translate(115.25,0) scale(0.97,1) translate(-115.25,0)">0</text>
<text x="131.44" y="721.8" class="xl" text-anchor="middle" transform="translate(131.44,0) scale(0.97,1) translate(-131.44,0)">2</text>
<text x="147.63" y="721.8" class="xl" text-anchor="middle" transform="translate(147.63,0) scale(0.97,1) translate(-147.63,0)">4</text>
<text x="163.82" y="721.8" class="xl" text-anchor="middle" transform="translate(163.82,0) scale(0.97,1) translate(-163.82,0)">6</text>
<text x="180.01" y="721.8" class="xl" text-anchor="middle" transform="translate(180.01,0) scale(0.97,1) translate(-180.01,0)">8</text>
<text x="196.2" y="721.8" class="xl" text-anchor="middle" transform="translate(196.2,0) scale(0.97,1) translate(-196.2,0)">10</text>
<text x="212.4" y="721.8" class="xl" text-anchor="middle" transform="translate(212.4,0) scale(0.97,1) translate(-212.4,0)">12</text>
<text x="228.59" y="721.8" class="xl" text-anchor="middle" transform="translate(228.59,0) scale(0.97,1) translate(-228.59,0)">14</text>
<text x="244.78" y="721.8" class="xl" text-anchor="middle" transform="translate(244.78,0) scale(0.97,1) translate(-244.78,0)">16</text>
<text x="260.97" y="721.8" class="xl" text-anchor="middle" transform="translate(260.97,0) scale(0.97,1) translate(-260.97,0)">18</text>
<text x="277.16" y="721.8" class="xl" text-anchor="middle" transform="translate(277.16,0) scale(0.97,1) translate(-277.16,0)">20</text>
<text x="293.35" y="721.8" class="xl" text-anchor="middle" transform="translate(293.35,0) scale(0.97,1) translate(-293.35,0)">22</text>
<text x="151.4" y="732.5" class="xt" textLength="105.5" lengthAdjust="spacing">Number of partner residues</text>
<text x="0" y="0" class="yt" textLength="41" lengthAdjust="spacingAndGlyphs" transform="translate(86.48,674.9) rotate(-90)">Frequency</text>
<text x="122.8" y="612.2" class="ti" textLength="18.1" lengthAdjust="spacingAndGlyphs">ARG</text>
<rect x="221" y="602.4" width="11.2" height="9.6" fill="#fff" stroke="#222" stroke-width="1"/>
<rect x="220.5" y="620.8" width="12.2" height="10.8" fill="#000"/>
<text x="242.8" y="612.5" class="lg" textLength="44.7" lengthAdjust="spacingAndGlyphs">w, 10.1 (3.1)</text>
<text x="242.8" y="630.1" class="lg" textLength="44" lengthAdjust="spacingAndGlyphs">sc, 5.8 (2.7)</text>
<rect x="338.5" y="702.71" width="2.2" height="0.49" fill="#fff" stroke="#222" stroke-width="0.9"/>
<rect x="348.38" y="700.85" width="2.44" height="2.35" fill="#000"/>
<rect x="354.5" y="702.71" width="2.2" height="0.49" fill="#fff" stroke="#222" stroke-width="0.9"/>
<rect x="356.5" y="691.45" width="2.44" height="11.75" fill="#000"/>
<rect x="362.5" y="701.77" width="2.2" height="1.43" fill="#fff" stroke="#222" stroke-width="0.9"/>
<rect x="364.63" y="685.81" width="2.44" height="17.39" fill="#000"/>
<rect x="371" y="697.07" width="2.2" height="6.13" fill="#fff" stroke="#222" stroke-width="0.9"/>
<rect x="372.75" y="683.46" width="2.44" height="19.74" fill="#000"/>
<rect x="378.5" y="699.42" width="2.2" height="3.78" fill="#fff" stroke="#222" stroke-width="0.9"/>
<rect x="380.87" y="674.06" width="2.44" height="29.14" fill="#000"/>
<rect x="387.5" y="689.55" width="2.2" height="13.65" fill="#fff" stroke="#222" stroke-width="0.9"/>
<rect x="388.99" y="668.89" width="2.44" height="34.31" fill="#000"/>
<rect x="395.5" y="686.73" width="2.2" height="16.47" fill="#fff" stroke="#222" stroke-width="0.9"/>
<rect x="397.11" y="648.21" width="2.44" height="54.99" fill="#000"/>
<rect x="403.5" y="682.97" width="2.2" height="20.23" fill="#fff" stroke="#222" stroke-width="0.9"/>
<rect x="405.23" y="640.22" width="2.44" height="62.98" fill="#000"/>
<rect x="411.5" y="670.75" width="2.2" height="32.45" fill="#fff" stroke="#222" stroke-width="0.9"/>
<rect x="413.36" y="621.42" width="2.44" height="81.78" fill="#000"/>
<rect x="419.5" y="669.34" width="2.2" height="33.86" fill="#fff" stroke="#222" stroke-width="0.9"/>
<rect x="421.48" y="620.48" width="2.44" height="82.72" fill="#000"/>
<rect x="427.5" y="649.6" width="2.2" height="53.6" fill="#fff" stroke="#222" stroke-width="0.9"/>
<rect x="429.6" y="622.83" width="2.44" height="80.37" fill="#000"/>
<rect x="435.5" y="635.5" width="2.2" height="67.7" fill="#fff" stroke="#222" stroke-width="0.9"/>
<rect x="437.72" y="647.74" width="2.44" height="55.46" fill="#000"/>
<rect x="444" y="623.75" width="2.2" height="79.45" fill="#fff" stroke="#222" stroke-width="0.9"/>
<rect x="445.84" y="677.82" width="2.44" height="25.38" fill="#000"/>
<rect x="452" y="634.09" width="2.2" height="69.11" fill="#fff" stroke="#222" stroke-width="0.9"/>
<rect x="453.97" y="688.63" width="2.44" height="14.57" fill="#000"/>
<rect x="460" y="636.91" width="2.2" height="66.29" fill="#fff" stroke="#222" stroke-width="0.9"/>
<rect x="462.09" y="699.91" width="2.44" height="3.29" fill="#000"/>
<rect x="468" y="648.66" width="2.2" height="54.54" fill="#fff" stroke="#222" stroke-width="0.9"/>
<rect x="470.21" y="702.73" width="2.44" height="0.47" fill="#000"/>
<rect x="476" y="671.69" width="2.2" height="31.51" fill="#fff" stroke="#222" stroke-width="0.9"/>
<rect x="484" y="688.14" width="2.2" height="15.06" fill="#fff" stroke="#222" stroke-width="0.9"/>
<rect x="493" y="697.07" width="2.2" height="6.13" fill="#fff" stroke="#222" stroke-width="0.9"/>
<rect x="516.5" y="702.71" width="2.2" height="0.49" fill="#fff" stroke="#222" stroke-width="0.9"/>
<line x1="336.2" y1="608.7" x2="336.2" y2="703.2" stroke="#222" stroke-width="1"/>
<line x1="336.2" y1="703.2" x2="523" y2="703.2" stroke="#222" stroke-width="1"/>
<line x1="333.2" y1="703.2" x2="336.2" y2="703.2" stroke="#222" stroke-width="1"/>
<text x="329.5" y="707.1" class="tk" text-anchor="end" transform="translate(329.5,0) scale(0.93,1) translate(-329.5,0)">0</text>
<line x1="333.2" y1="679.7" x2="336.2" y2="679.7" stroke="#222" stroke-width="1"/>
<text x="329.5" y="683.6" class="tk" text-anchor="end" transform="translate(329.5,0) scale(0.93,1) translate(-329.5,0)">50</text>
<line x1="333.2" y1="656.2" x2="336.2" y2="656.2" stroke="#222" stroke-width="1"/>
<text x="329.5" y="660.1" class="tk" text-anchor="end" transform="translate(329.5,0) scale(0.93,1) translate(-329.5,0)">100</text>
<line x1="333.2" y1="632.7" x2="336.2" y2="632.7" stroke="#222" stroke-width="1"/>
<text x="329.5" y="636.6" class="tk" text-anchor="end" transform="translate(329.5,0) scale(0.93,1) translate(-329.5,0)">150</text>
<line x1="333.2" y1="609.2" x2="336.2" y2="609.2" stroke="#222" stroke-width="1"/>
<text x="329.5" y="613.1" class="tk" text-anchor="end" transform="translate(329.5,0) scale(0.93,1) translate(-329.5,0)">200</text>
<line x1="336.2" y1="703.2" x2="336.2" y2="706.2" stroke="#222" stroke-width="1"/>
<line x1="344.32" y1="703.2" x2="344.32" y2="706.2" stroke="#222" stroke-width="1"/>
<line x1="352.44" y1="703.2" x2="352.44" y2="706.2" stroke="#222" stroke-width="1"/>
<line x1="360.57" y1="703.2" x2="360.57" y2="706.2" stroke="#222" stroke-width="1"/>
<line x1="368.69" y1="703.2" x2="368.69" y2="706.2" stroke="#222" stroke-width="1"/>
<line x1="376.81" y1="703.2" x2="376.81" y2="706.2" stroke="#222" stroke-width="1"/>
<line x1="384.93" y1="703.2" x2="384.93" y2="706.2" stroke="#222" stroke-width="1"/>
<line x1="393.05" y1="703.2" x2="393.05" y2="706.2" stroke="#222" stroke-width="1"/>
<line x1="401.17" y1="703.2" x2="401.17" y2="706.2" stroke="#222" stroke-width="1"/>
<line x1="409.3" y1="703.2" x2="409.3" y2="706.2" stroke="#222" stroke-width="1"/>
<line x1="417.42" y1="703.2" x2="417.42" y2="706.2" stroke="#222" stroke-width="1"/>
<line x1="425.54" y1="703.2" x2="425.54" y2="706.2" stroke="#222" stroke-width="1"/>
<line x1="433.66" y1="703.2" x2="433.66" y2="706.2" stroke="#222" stroke-width="1"/>
<line x1="441.78" y1="703.2" x2="441.78" y2="706.2" stroke="#222" stroke-width="1"/>
<line x1="449.9" y1="703.2" x2="449.9" y2="706.2" stroke="#222" stroke-width="1"/>
<line x1="458.03" y1="703.2" x2="458.03" y2="706.2" stroke="#222" stroke-width="1"/>
<line x1="466.15" y1="703.2" x2="466.15" y2="706.2" stroke="#222" stroke-width="1"/>
<line x1="474.27" y1="703.2" x2="474.27" y2="706.2" stroke="#222" stroke-width="1"/>
<line x1="482.39" y1="703.2" x2="482.39" y2="706.2" stroke="#222" stroke-width="1"/>
<line x1="490.51" y1="703.2" x2="490.51" y2="706.2" stroke="#222" stroke-width="1"/>
<line x1="498.63" y1="703.2" x2="498.63" y2="706.2" stroke="#222" stroke-width="1"/>
<line x1="506.76" y1="703.2" x2="506.76" y2="706.2" stroke="#222" stroke-width="1"/>
<line x1="514.88" y1="703.2" x2="514.88" y2="706.2" stroke="#222" stroke-width="1"/>
<line x1="523" y1="703.2" x2="523" y2="706.2" stroke="#222" stroke-width="1"/>
<text x="340.26" y="720.6" class="xl" text-anchor="middle" transform="translate(340.26,0) scale(0.97,1) translate(-340.26,0)">0</text>
<text x="356.5" y="720.6" class="xl" text-anchor="middle" transform="translate(356.5,0) scale(0.97,1) translate(-356.5,0)">2</text>
<text x="372.75" y="720.6" class="xl" text-anchor="middle" transform="translate(372.75,0) scale(0.97,1) translate(-372.75,0)">4</text>
<text x="388.99" y="720.6" class="xl" text-anchor="middle" transform="translate(388.99,0) scale(0.97,1) translate(-388.99,0)">6</text>
<text x="405.23" y="720.6" class="xl" text-anchor="middle" transform="translate(405.23,0) scale(0.97,1) translate(-405.23,0)">8</text>
<text x="421.48" y="720.6" class="xl" text-anchor="middle" transform="translate(421.48,0) scale(0.97,1) translate(-421.48,0)">10</text>
<text x="437.72" y="720.6" class="xl" text-anchor="middle" transform="translate(437.72,0) scale(0.97,1) translate(-437.72,0)">12</text>
<text x="453.97" y="720.6" class="xl" text-anchor="middle" transform="translate(453.97,0) scale(0.97,1) translate(-453.97,0)">14</text>
<text x="470.21" y="720.6" class="xl" text-anchor="middle" transform="translate(470.21,0) scale(0.97,1) translate(-470.21,0)">16</text>
<text x="486.45" y="720.6" class="xl" text-anchor="middle" transform="translate(486.45,0) scale(0.97,1) translate(-486.45,0)">18</text>
<text x="502.7" y="720.6" class="xl" text-anchor="middle" transform="translate(502.7,0) scale(0.97,1) translate(-502.7,0)">20</text>
<text x="518.94" y="720.6" class="xl" text-anchor="middle" transform="translate(518.94,0) scale(0.97,1) translate(-518.94,0)">22</text>
<text x="374.2" y="733" class="xt" textLength="104.5" lengthAdjust="spacing">Number of partner residues</text>
<text x="0" y="0" class="yt" textLength="41.5" lengthAdjust="spacingAndGlyphs" transform="translate(310.68,676.6) rotate(-90)">Frequency</text>
<text x="346.8" y="614.2" class="ti" textLength="15.1" lengthAdjust="spacingAndGlyphs">TRP</text>
<rect x="459.8" y="607.1" width="10.9" height="9.2" fill="#fff" stroke="#222" stroke-width="1"/>
<rect x="459.6" y="620.8" width="11.4" height="11.2" fill="#000"/>
<text x="476.6" y="614" class="lg" textLength="44.7" lengthAdjust="spacingAndGlyphs">w, 12.6(3.2)</text>
<text x="477" y="631.1" class="lg" textLength="41.8" lengthAdjust="spacingAndGlyphs">sc, 8.8(2.9)</text>
</svg>
</body></html>
